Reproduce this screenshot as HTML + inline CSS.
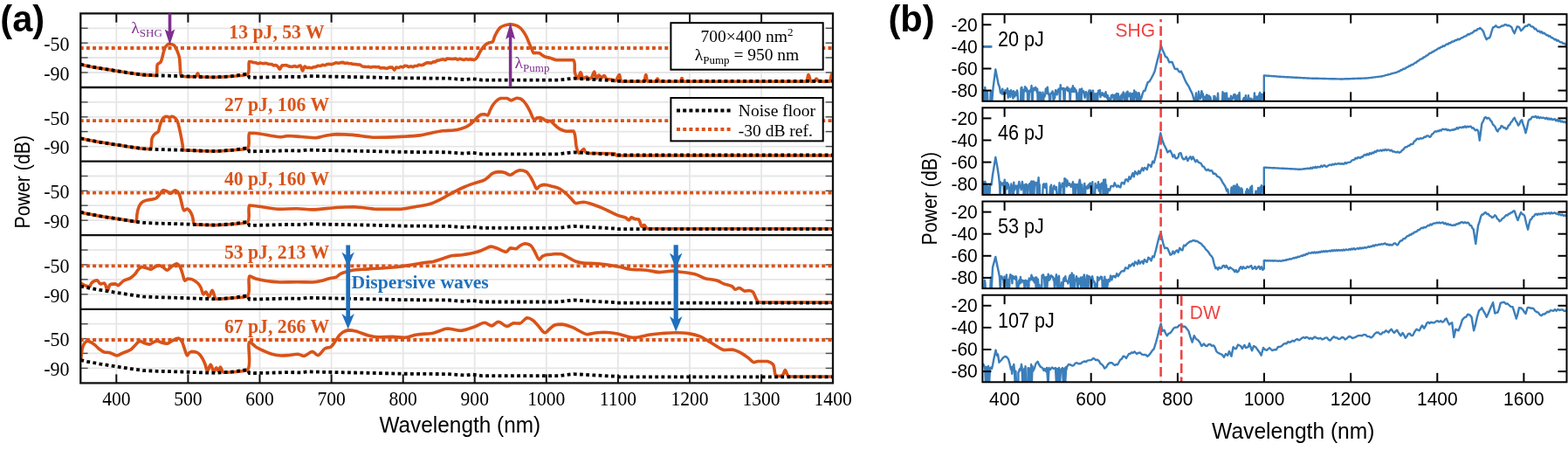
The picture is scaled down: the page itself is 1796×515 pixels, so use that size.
<!DOCTYPE html><html><head><meta charset="utf-8"><title>Figure</title><style>html,body{margin:0;padding:0;background:#fff;}svg{display:block;}</style></head><body>
<svg width="1796" height="515" viewBox="0 0 1796 515">
<rect x="0" y="0" width="1796" height="515" fill="#fff"/>
<defs>
<clipPath id="ca0"><rect x="92.3" y="15.4" width="861.7" height="84.6"/></clipPath>
<clipPath id="ca1"><rect x="92.3" y="100.0" width="861.7" height="84.6"/></clipPath>
<clipPath id="ca2"><rect x="92.3" y="184.6" width="861.7" height="84.6"/></clipPath>
<clipPath id="ca3"><rect x="92.3" y="269.2" width="861.7" height="84.6"/></clipPath>
<clipPath id="ca4"><rect x="92.3" y="353.8" width="861.7" height="84.6"/></clipPath>
<clipPath id="cb0"><rect x="1125.4" y="16.2" width="669.1" height="99.6"/></clipPath>
<clipPath id="cb1"><rect x="1125.4" y="123.3" width="669.1" height="99.6"/></clipPath>
<clipPath id="cb2"><rect x="1125.4" y="230.5" width="669.1" height="99.6"/></clipPath>
<clipPath id="cb3"><rect x="1125.4" y="337.7" width="669.1" height="99.6"/></clipPath>
</defs>
<g stroke="#E6E6E6" stroke-width="1.8" fill="none">
<line x1="133.3" y1="15.4" x2="133.3" y2="438.4"/>
<line x1="215.4" y1="15.4" x2="215.4" y2="438.4"/>
<line x1="297.5" y1="15.4" x2="297.5" y2="438.4"/>
<line x1="379.6" y1="15.4" x2="379.6" y2="438.4"/>
<line x1="461.7" y1="15.4" x2="461.7" y2="438.4"/>
<line x1="543.7" y1="15.4" x2="543.7" y2="438.4"/>
<line x1="625.8" y1="15.4" x2="625.8" y2="438.4"/>
<line x1="707.9" y1="15.4" x2="707.9" y2="438.4"/>
<line x1="790.0" y1="15.4" x2="790.0" y2="438.4"/>
<line x1="872.1" y1="15.4" x2="872.1" y2="438.4"/>
<line x1="92.3" y1="32.3" x2="954.0" y2="32.3"/>
<line x1="92.3" y1="49.2" x2="954.0" y2="49.2"/>
<line x1="92.3" y1="66.0" x2="954.0" y2="66.0"/>
<line x1="92.3" y1="83.0" x2="954.0" y2="83.0"/>
<line x1="92.3" y1="116.9" x2="954.0" y2="116.9"/>
<line x1="92.3" y1="133.8" x2="954.0" y2="133.8"/>
<line x1="92.3" y1="150.6" x2="954.0" y2="150.6"/>
<line x1="92.3" y1="167.6" x2="954.0" y2="167.6"/>
<line x1="92.3" y1="201.5" x2="954.0" y2="201.5"/>
<line x1="92.3" y1="218.4" x2="954.0" y2="218.4"/>
<line x1="92.3" y1="235.2" x2="954.0" y2="235.2"/>
<line x1="92.3" y1="252.2" x2="954.0" y2="252.2"/>
<line x1="92.3" y1="286.1" x2="954.0" y2="286.1"/>
<line x1="92.3" y1="303.0" x2="954.0" y2="303.0"/>
<line x1="92.3" y1="319.8" x2="954.0" y2="319.8"/>
<line x1="92.3" y1="336.8" x2="954.0" y2="336.8"/>
<line x1="92.3" y1="370.7" x2="954.0" y2="370.7"/>
<line x1="92.3" y1="387.6" x2="954.0" y2="387.6"/>
<line x1="92.3" y1="404.4" x2="954.0" y2="404.4"/>
<line x1="92.3" y1="421.4" x2="954.0" y2="421.4"/>
</g>
<g stroke="#4a4a4a" stroke-width="1.4">
<line x1="92.3" y1="32.3" x2="100.6" y2="32.3"/>
<line x1="945.7" y1="32.3" x2="954.0" y2="32.3"/>
<line x1="92.3" y1="49.2" x2="100.6" y2="49.2"/>
<line x1="945.7" y1="49.2" x2="954.0" y2="49.2"/>
<line x1="92.3" y1="66.0" x2="100.6" y2="66.0"/>
<line x1="945.7" y1="66.0" x2="954.0" y2="66.0"/>
<line x1="92.3" y1="83.0" x2="100.6" y2="83.0"/>
<line x1="945.7" y1="83.0" x2="954.0" y2="83.0"/>
<line x1="92.3" y1="116.9" x2="100.6" y2="116.9"/>
<line x1="945.7" y1="116.9" x2="954.0" y2="116.9"/>
<line x1="92.3" y1="133.8" x2="100.6" y2="133.8"/>
<line x1="945.7" y1="133.8" x2="954.0" y2="133.8"/>
<line x1="92.3" y1="150.6" x2="100.6" y2="150.6"/>
<line x1="945.7" y1="150.6" x2="954.0" y2="150.6"/>
<line x1="92.3" y1="167.6" x2="100.6" y2="167.6"/>
<line x1="945.7" y1="167.6" x2="954.0" y2="167.6"/>
<line x1="92.3" y1="201.5" x2="100.6" y2="201.5"/>
<line x1="945.7" y1="201.5" x2="954.0" y2="201.5"/>
<line x1="92.3" y1="218.4" x2="100.6" y2="218.4"/>
<line x1="945.7" y1="218.4" x2="954.0" y2="218.4"/>
<line x1="92.3" y1="235.2" x2="100.6" y2="235.2"/>
<line x1="945.7" y1="235.2" x2="954.0" y2="235.2"/>
<line x1="92.3" y1="252.2" x2="100.6" y2="252.2"/>
<line x1="945.7" y1="252.2" x2="954.0" y2="252.2"/>
<line x1="92.3" y1="286.1" x2="100.6" y2="286.1"/>
<line x1="945.7" y1="286.1" x2="954.0" y2="286.1"/>
<line x1="92.3" y1="303.0" x2="100.6" y2="303.0"/>
<line x1="945.7" y1="303.0" x2="954.0" y2="303.0"/>
<line x1="92.3" y1="319.8" x2="100.6" y2="319.8"/>
<line x1="945.7" y1="319.8" x2="954.0" y2="319.8"/>
<line x1="92.3" y1="336.8" x2="100.6" y2="336.8"/>
<line x1="945.7" y1="336.8" x2="954.0" y2="336.8"/>
<line x1="92.3" y1="370.7" x2="100.6" y2="370.7"/>
<line x1="945.7" y1="370.7" x2="954.0" y2="370.7"/>
<line x1="92.3" y1="387.6" x2="100.6" y2="387.6"/>
<line x1="945.7" y1="387.6" x2="954.0" y2="387.6"/>
<line x1="92.3" y1="404.4" x2="100.6" y2="404.4"/>
<line x1="945.7" y1="404.4" x2="954.0" y2="404.4"/>
<line x1="92.3" y1="421.4" x2="100.6" y2="421.4"/>
<line x1="945.7" y1="421.4" x2="954.0" y2="421.4"/>
</g>
<g clip-path="url(#ca0)">
<path d="M92.30,73.70C92.30,73.70 97.00,74.79 100.00,75.40C104.17,76.25 109.68,77.29 115.00,78.20C121.02,79.23 128.20,80.24 134.30,81.20C139.80,82.07 144.93,82.95 150.00,83.70C154.74,84.40 159.11,85.16 163.80,85.60C168.64,86.05 175.89,86.33 178.60,86.33C181.11,84.26 178.90,76.25 180.40,73.70C181.31,72.16 183.05,72.42 184.10,70.90C185.88,68.31 186.62,61.27 187.80,58.00C188.55,55.91 189.00,54.34 190.00,53.00C190.89,51.81 191.96,50.53 193.30,50.20C194.85,50.20 197.50,50.58 198.90,51.50C200.12,52.30 200.76,53.69 201.50,55.00C202.31,56.43 202.87,58.08 203.50,59.80C204.21,61.72 205.05,63.74 205.50,66.00C206.02,68.61 205.91,71.50 206.20,74.60C206.55,78.27 206.38,85.16 207.50,86.60C207.91,87.13 208.22,87.00 209.00,87.16C211.39,87.64 221.25,87.76 224.00,87.76C225.54,86.95 225.75,83.80 226.50,83.80C227.25,83.84 227.95,87.58 228.50,87.94C228.68,87.96 228.80,87.95 229.00,87.96C229.28,87.97 229.46,87.98 230.00,88.00C232.20,88.07 241.09,88.40 246.80,88.40C252.75,88.29 258.90,87.91 265.00,87.30C271.20,86.68 280.41,87.30 283.70,84.70C286.57,81.82 284.02,71.70 285.60,70.50C286.26,70.50 287.25,70.69 288.07,70.85C288.89,71.01 289.71,71.32 290.53,71.47C291.35,71.63 292.21,71.58 293.00,71.80C293.78,72.02 294.49,72.72 295.25,72.78C295.99,72.78 296.74,72.22 297.50,72.16C298.24,72.16 299.00,72.34 299.75,72.45C300.50,72.56 301.25,72.81 302.00,72.81C302.75,72.78 303.51,72.29 304.25,72.29C305.01,72.34 305.74,72.89 306.50,73.10C307.24,73.30 308.00,73.45 308.75,73.52C309.50,73.52 310.27,73.50 311.00,73.50C311.80,73.71 312.53,74.72 313.33,74.86C314.09,74.86 314.92,74.44 315.67,74.44C316.48,74.61 317.25,75.32 318.00,76.00C318.91,76.83 319.79,79.20 320.60,79.20C321.47,79.13 322.01,75.63 323.00,75.00C323.69,74.81 324.56,74.88 325.33,74.81C326.11,74.75 326.90,74.60 327.67,74.60C328.46,74.71 329.20,75.22 330.00,75.50C330.81,75.79 331.66,76.17 332.50,76.31C333.32,76.35 334.18,76.35 335.00,76.35C335.85,76.20 336.67,75.43 337.50,75.43C338.34,75.45 339.06,76.48 340.00,76.50C341.17,76.50 342.95,75.00 344.00,75.00C345.30,75.55 345.73,80.98 346.60,81.00C347.40,81.00 348.00,76.30 349.00,76.00C349.73,76.00 350.63,77.32 351.50,77.52C352.30,77.52 353.16,77.30 354.00,77.30C354.86,77.34 355.73,77.78 356.58,77.78C357.45,77.71 358.29,77.08 359.16,76.86C360.01,76.64 360.90,76.69 361.74,76.43C362.62,76.16 363.44,75.39 364.32,75.24C365.16,75.24 366.06,75.50 366.90,75.50C367.78,75.34 368.60,74.35 369.48,74.25C370.32,74.25 371.22,74.79 372.06,74.79C372.94,74.69 373.76,73.79 374.64,73.57C375.48,73.42 376.36,73.42 377.22,73.42C378.08,73.43 378.95,73.60 379.80,73.60C380.67,73.48 381.52,72.98 382.38,72.70C383.24,72.41 384.09,71.95 384.96,71.87C385.81,71.87 386.68,72.22 387.54,72.22C388.40,72.19 389.26,71.87 390.12,71.73C390.98,71.60 391.86,71.40 392.70,71.40C393.55,71.51 394.33,72.26 395.17,72.38C395.98,72.38 396.82,72.17 397.63,72.17C398.46,72.23 399.27,72.64 400.10,72.75C400.92,72.87 401.75,72.75 402.57,72.87C403.40,72.99 404.20,73.40 405.03,73.53C405.85,73.60 406.68,73.53 407.50,73.60C408.32,73.68 409.13,73.90 409.95,73.99C410.76,74.08 411.62,73.99 412.40,74.13C413.26,74.44 413.99,75.53 414.85,75.90C415.63,76.23 416.48,76.25 417.30,76.36C418.11,76.47 418.93,76.54 419.75,76.55C420.57,76.55 421.40,76.40 422.20,76.40C422.98,76.47 423.73,76.95 424.50,76.96C425.27,76.96 426.03,76.52 426.80,76.44C427.56,76.44 428.33,76.44 429.10,76.48C429.87,76.53 430.63,76.76 431.40,76.77C432.17,76.77 432.96,76.56 433.70,76.56C434.50,76.76 435.20,77.86 436.00,78.00C436.74,78.00 437.53,77.55 438.30,77.53C439.07,77.53 439.79,77.79 440.60,77.90C441.49,78.02 442.48,78.22 443.40,78.22C444.35,78.10 445.25,77.30 446.20,77.10C447.12,77.00 448.15,77.00 449.00,77.00C450.03,77.45 450.86,80.10 451.70,80.10C452.52,80.07 453.09,77.35 454.00,77.00C454.75,77.00 455.71,77.52 456.55,77.52C457.41,77.43 458.26,76.48 459.10,76.40C459.87,76.40 460.66,76.91 461.40,76.91C462.20,76.75 462.89,75.48 463.70,75.28C464.43,75.28 465.25,75.32 466.00,75.54C466.79,75.77 467.53,76.65 468.30,76.69C469.06,76.69 469.83,75.80 470.60,75.78C471.36,75.78 472.14,76.59 472.90,76.59C473.68,76.54 474.41,75.60 475.20,75.43C475.95,75.43 476.76,75.50 477.50,75.50C478.30,75.30 479.02,74.29 479.81,74.16C480.56,74.16 481.35,74.56 482.12,74.58C482.89,74.58 483.70,74.55 484.44,74.28C485.24,73.98 485.96,73.19 486.75,72.79C487.50,72.40 488.28,72.05 489.06,71.88C489.82,71.75 490.61,71.75 491.38,71.75C492.15,71.82 492.94,72.31 493.69,72.31C494.48,72.19 495.20,71.13 496.00,70.90C496.74,70.90 497.57,70.90 498.30,70.90C499.11,70.65 499.79,69.59 500.60,69.29C501.33,69.06 502.14,69.21 502.90,69.06C503.67,68.90 504.43,68.54 505.20,68.33C505.96,68.12 506.74,67.80 507.50,67.80C508.27,67.85 509.06,68.66 509.80,68.66C510.59,68.56 511.29,67.31 512.10,67.08C512.83,67.08 513.62,67.14 514.40,67.20C515.21,67.26 516.04,67.42 516.87,67.46C517.69,67.46 518.51,67.46 519.33,67.41C520.16,67.34 520.99,67.09 521.80,67.09C522.64,67.22 523.44,68.19 524.27,68.22C525.08,68.22 525.91,67.30 526.73,67.29C527.55,67.29 528.38,67.91 529.20,68.10C529.97,68.28 530.74,68.44 531.50,68.44C532.28,68.36 533.03,67.61 533.80,67.58C534.56,67.58 535.33,68.15 536.10,68.21C536.86,68.21 537.63,67.93 538.40,67.92C539.17,67.92 539.94,67.99 540.70,68.10C541.47,68.22 542.20,68.60 543.00,68.60C544.16,68.29 545.61,66.70 546.70,65.30C548.01,63.63 548.87,60.92 550.00,59.00C551.01,57.29 551.92,55.73 553.10,54.30C554.26,52.90 555.66,51.46 557.00,50.50C558.14,49.68 559.29,49.15 560.50,48.70C561.69,48.26 563.24,48.63 564.20,47.80C565.42,46.74 565.62,43.94 566.50,42.00C567.44,39.94 568.54,37.63 569.70,35.80C570.73,34.18 571.70,32.58 573.00,31.50C574.20,30.50 575.49,29.96 577.10,29.40C579.16,28.68 582.03,27.90 584.50,27.90C586.97,27.90 589.86,28.58 591.90,29.40C593.54,30.06 594.79,30.94 596.00,32.00C597.23,33.07 598.14,34.33 599.20,35.80C600.48,37.57 601.83,39.72 603.00,42.00C604.32,44.59 605.51,48.07 606.60,50.60C607.47,52.61 608.21,54.27 609.00,56.00C609.74,57.62 610.16,60.09 611.20,60.70C611.97,60.70 613.00,60.51 614.00,60.50C615.15,60.50 616.55,60.50 617.70,60.70C618.89,61.11 619.82,62.26 621.00,63.00C622.27,63.80 623.63,64.75 625.10,65.30C626.62,65.87 628.21,65.83 630.00,66.30C632.23,66.89 634.31,68.21 637.40,68.70C642.27,68.70 653.30,68.70 656.70,68.70C659.72,71.37 657.35,79.96 658.60,83.80C659.45,86.42 660.95,90.00 662.00,90.00C663.09,89.94 664.00,82.90 665.00,82.90C666.00,82.90 666.57,89.47 668.00,90.00C669.09,90.00 670.80,88.00 672.00,88.00C673.12,88.13 674.00,90.50 675.00,90.50C676.00,90.50 677.13,89.14 678.00,88.00C679.12,86.52 679.90,82.00 680.70,82.00C681.60,82.06 681.94,89.80 683.00,90.00C683.82,90.00 684.96,86.07 686.00,86.00C686.96,86.00 687.98,88.95 689.00,89.00C689.98,89.00 691.05,86.50 692.00,86.50C693.07,86.62 693.67,89.75 695.00,90.50C696.33,91.00 698.35,90.67 700.00,91.00C701.68,91.33 703.56,92.50 705.00,92.50C706.79,91.82 708.13,85.60 709.30,85.60C710.46,85.73 709.71,91.58 712.00,93.20C716.03,93.20 732.93,93.20 737.00,93.20C739.32,91.59 738.96,85.60 739.80,85.60C740.63,85.63 740.26,91.89 742.00,93.20C743.86,93.20 749.20,93.20 751.00,93.20C752.17,92.55 752.27,90.04 753.00,90.00C753.76,90.00 753.96,92.45 755.50,93.20C759.22,93.20 775.56,93.20 779.00,93.20C780.45,92.33 780.33,89.50 781.00,89.50C781.67,89.50 781.24,92.15 783.00,93.20C793.17,93.20 910.59,93.20 923.00,93.20C926.00,91.16 925.00,85.60 926.00,85.60C927.00,85.60 927.47,92.16 929.00,93.20C930.07,93.20 931.99,93.20 933.00,93.20C933.98,92.66 934.21,90.08 935.00,90.00C935.85,90.00 936.47,92.54 938.00,93.20C940.54,93.20 947.57,93.20 950.00,93.20C952.10,91.68 951.89,84.90 952.80,84.70C953.20,84.70 954.00,86.00 954.00,86.00" fill="none" stroke="#D95319" stroke-width="3.6" stroke-linejoin="round" stroke-linecap="round"/>
<polyline points="92.3,73.7 100.0,75.4 115.0,78.2 134.3,81.2 150.0,83.7 163.8,85.6 180.0,86.4 207.5,87.1 230.0,88.0 246.8,88.4 265.0,87.3 283.7,84.7 285.6,88.7 300.0,88.5 330.0,87.7 345.0,88.0 352.0,87.0 370.0,87.4 400.0,88.0 422.0,88.4 459.0,89.3 514.0,89.7 525.0,90.6 533.0,91.1 540.0,90.2 547.0,90.8 552.0,91.7 640.0,91.7 650.0,90.4 657.0,89.7 680.0,91.0 703.8,92.3 706.0,92.9 954.0,92.9" fill="none" stroke="#000" stroke-width="3.8" stroke-dasharray="3.8 3.4"/>
<line x1="93.3" y1="55.0" x2="954.0" y2="55.0" stroke="#D95319" stroke-width="3.8" stroke-dasharray="4 3.2" stroke-dashoffset="1.6"/>
</g>
<g clip-path="url(#ca1)">
<path d="M92.30,158.30C92.30,158.30 97.00,159.39 100.00,160.00C104.17,160.85 109.68,161.89 115.00,162.80C121.02,163.83 128.20,164.84 134.30,165.80C139.80,166.67 144.93,167.55 150.00,168.30C154.74,169.00 159.77,169.82 163.80,170.20C166.91,170.49 170.35,170.61 172.10,170.61C174.21,168.90 173.18,161.37 174.00,158.70C174.44,157.25 174.88,156.45 175.50,155.50C176.09,154.60 176.75,153.88 177.60,153.10C178.62,152.17 180.41,151.70 181.30,150.40C182.37,148.84 182.36,146.05 183.00,144.00C183.60,142.06 184.25,140.00 185.00,138.40C185.61,137.09 186.16,135.85 187.00,135.00C187.74,134.25 188.71,133.63 189.60,133.40C190.39,133.40 191.24,133.40 192.00,133.50C192.78,133.72 193.47,134.70 194.20,134.70C194.97,134.67 195.69,133.35 196.50,133.20C197.26,133.20 198.09,133.25 198.90,133.70C200.08,134.35 201.58,135.92 202.50,137.40C203.49,138.99 203.91,140.98 204.50,143.00C205.17,145.28 205.59,147.51 206.20,150.40C207.05,154.46 208.36,161.18 209.00,165.10C209.43,167.70 209.19,170.83 209.90,171.60C210.20,171.84 210.40,171.76 211.00,171.84C213.45,172.15 223.86,172.40 230.00,172.60C235.77,172.78 241.09,173.00 246.80,173.00C252.75,172.89 258.90,172.51 265.00,171.90C271.20,171.28 280.26,171.90 283.70,169.30C286.99,165.98 283.37,154.33 285.90,152.20C287.53,152.20 290.09,152.20 293.00,152.50C297.71,152.98 306.32,154.73 311.40,155.50C314.99,156.05 317.52,156.80 320.60,156.80C323.72,156.80 326.50,155.62 330.00,155.50C334.41,155.50 339.89,156.14 345.00,156.50C350.35,156.87 356.55,157.70 361.40,157.70C365.34,157.44 368.26,156.16 372.00,155.50C376.17,154.77 380.49,153.84 385.30,153.60C390.95,153.60 397.13,153.88 403.80,154.40C411.70,155.01 420.70,156.94 429.60,157.30C439.09,157.30 449.98,156.85 459.10,156.40C467.00,156.01 475.00,155.74 481.20,154.90C485.77,154.28 489.03,153.31 493.00,152.50C497.03,151.68 500.70,150.64 505.20,150.00C510.68,149.22 518.54,149.46 523.60,148.50C527.27,147.81 530.31,146.81 532.90,145.70C534.91,144.84 536.44,143.89 538.00,142.80C539.50,141.75 540.79,140.57 542.10,139.30C543.46,137.98 544.53,136.34 546.00,135.00C547.57,133.56 549.60,131.62 551.30,131.00C552.57,130.80 553.78,130.80 555.00,130.80C556.25,130.95 557.73,131.90 558.70,131.90C559.84,131.39 560.15,128.72 561.00,127.00C561.96,125.05 562.99,122.68 564.20,120.80C565.34,119.04 566.49,117.37 568.00,116.00C569.55,114.59 571.36,113.10 573.40,112.50C575.59,112.50 578.68,112.50 580.80,112.50C582.58,112.94 583.72,114.83 585.40,114.90C587.36,114.90 589.96,112.40 591.90,112.20C593.40,112.20 594.77,112.47 596.00,113.00C597.20,113.52 598.15,114.31 599.20,115.30C600.50,116.53 601.82,118.27 603.00,120.00C604.30,121.90 605.30,123.89 606.60,126.30C608.30,129.46 610.43,137.05 612.20,137.40C613.16,137.40 613.93,135.47 615.00,135.00C616.06,134.60 617.44,134.60 618.60,134.60C619.77,134.77 620.80,135.36 622.00,136.00C623.52,136.82 625.41,139.09 626.90,139.30C628.01,139.30 628.87,138.30 630.00,138.30C631.76,138.66 634.07,141.89 636.00,143.50C637.76,144.97 639.15,146.49 641.10,147.60C643.23,148.81 645.85,149.89 648.40,150.30C651.04,150.30 654.71,150.00 656.70,150.00C659.72,152.40 658.97,164.24 660.40,168.80C661.26,171.55 662.05,174.91 663.20,175.20C664.02,175.20 665.09,173.76 666.00,173.00C666.92,172.23 667.96,170.60 668.70,170.60C669.47,170.74 669.66,173.23 670.50,174.00C671.25,174.69 671.82,174.88 673.30,175.20C677.99,175.80 699.17,175.20 703.80,175.80C705.38,176.36 704.71,177.35 706.60,178.00C722.38,178.00 954.00,178.00 954.00,178.00" fill="none" stroke="#D95319" stroke-width="3.6" stroke-linejoin="round" stroke-linecap="round"/>
<polyline points="92.3,158.3 100.0,160.0 115.0,162.8 134.3,165.8 150.0,168.3 163.8,170.2 180.0,171.0 207.5,171.7 230.0,172.6 246.8,173.0 265.0,171.9 283.7,169.3 285.6,173.3 300.0,173.1 330.0,172.3 345.0,172.6 352.0,171.6 370.0,172.0 400.0,172.6 422.0,173.0 459.0,173.9 514.0,174.3 525.0,175.2 533.0,175.7 540.0,174.8 547.0,175.4 552.0,176.3 640.0,176.3 650.0,175.0 657.0,174.3 680.0,175.6 703.8,176.9 706.0,177.5 954.0,177.5" fill="none" stroke="#000" stroke-width="3.8" stroke-dasharray="3.8 3.4"/>
<line x1="93.3" y1="138.1" x2="954.0" y2="138.1" stroke="#D95319" stroke-width="3.8" stroke-dasharray="4 3.2" stroke-dashoffset="1.6"/>
</g>
<g clip-path="url(#ca2)">
<path d="M92.30,242.90C92.30,242.90 97.00,243.99 100.00,244.60C104.17,245.45 109.68,246.49 115.00,247.40C121.02,248.43 128.20,249.44 134.30,250.40C139.80,251.27 146.11,252.32 150.00,252.90C152.30,253.24 154.30,253.66 155.50,253.66C157.01,252.56 156.49,247.62 157.00,245.00C157.43,242.81 157.69,240.88 158.30,239.00C158.88,237.23 159.53,235.42 160.50,234.00C161.40,232.69 162.44,231.53 163.80,230.70C165.31,229.77 167.43,229.35 169.30,228.90C171.17,228.45 173.33,228.36 175.00,228.00C176.35,227.71 177.47,227.65 178.60,227.00C179.93,226.24 181.04,224.77 182.30,223.40C183.79,221.77 185.27,218.34 186.90,217.80C188.08,217.80 189.34,218.18 190.60,218.70C192.10,219.32 193.61,221.50 195.20,221.50C196.96,221.46 199.06,217.80 200.70,217.80C202.07,217.84 203.45,219.35 204.40,220.60C205.46,222.00 205.90,224.09 206.50,226.00C207.15,228.07 207.44,230.29 208.10,232.60C208.84,235.22 209.38,240.31 210.80,240.90C211.78,240.90 213.42,239.00 214.50,239.00C215.45,239.10 216.26,240.16 217.00,241.00C217.85,241.97 218.57,243.24 219.20,244.60C219.94,246.18 220.55,248.16 221.00,250.00C221.45,251.83 221.36,254.42 221.90,255.60C222.20,256.25 222.37,256.61 223.00,256.92C224.27,257.20 227.16,257.11 230.00,257.20C234.39,257.34 241.09,257.60 246.80,257.60C252.75,257.49 258.90,257.11 265.00,256.50C271.20,255.88 280.21,256.50 283.70,253.90C287.20,250.32 283.22,237.16 285.90,235.00C287.54,235.00 289.86,235.34 293.00,235.70C299.20,236.42 312.19,238.99 320.60,239.40C327.62,239.40 333.68,238.70 340.00,238.70C346.04,238.80 351.15,239.90 357.70,239.90C365.89,239.82 376.80,238.02 385.30,237.50C392.58,237.06 398.44,236.80 405.60,236.80C413.69,237.07 422.64,238.96 431.40,239.40C440.46,239.40 450.84,239.40 459.10,239.40C465.89,238.81 471.70,237.23 477.50,236.20C482.70,235.27 487.61,234.92 492.30,233.50C496.83,232.12 501.35,229.80 505.20,227.90C508.46,226.29 511.00,224.65 514.00,223.00C517.13,221.28 520.39,219.40 523.60,217.80C526.72,216.24 529.72,214.85 533.00,213.50C536.47,212.07 540.24,210.78 543.90,209.50C547.57,208.21 552.12,207.32 555.00,205.80C557.11,204.69 558.42,203.27 560.00,202.00C561.48,200.81 562.48,199.28 564.20,198.40C566.22,197.36 569.21,196.72 571.60,196.60C573.80,196.60 575.90,196.91 578.00,197.50C580.20,198.12 582.46,200.30 584.50,200.30C586.45,200.17 588.12,197.93 590.00,197.00C591.82,196.10 593.59,194.93 595.60,194.80C597.85,194.80 601.18,195.57 602.90,196.60C604.14,197.34 604.64,198.39 605.50,199.50C606.51,200.80 607.55,202.36 608.50,204.00C609.56,205.83 610.44,208.01 611.50,210.00C612.57,212.01 613.67,215.82 614.90,216.00C615.87,216.00 616.73,213.75 618.00,213.00C619.43,212.15 621.21,211.51 623.20,211.40C625.82,211.40 629.40,212.43 632.40,213.20C635.36,213.96 638.43,214.62 641.10,216.00C643.77,217.38 646.18,219.59 648.40,221.50C650.45,223.27 652.15,225.15 654.00,227.00C655.85,228.85 657.19,231.82 659.50,232.60C662.01,232.60 665.22,231.30 668.70,231.30C673.46,231.66 680.42,234.50 685.30,236.30C689.31,237.78 692.38,239.36 696.00,241.00C699.77,242.71 703.83,244.99 707.50,246.40C710.69,247.63 714.39,248.05 716.70,249.20C718.29,250.00 719.30,251.90 720.40,251.90C721.45,251.79 722.10,249.03 723.20,248.80C724.30,248.80 725.65,250.13 727.00,250.50C728.41,250.88 730.27,250.50 731.50,251.00C733.24,252.28 733.69,258.87 735.10,259.30C735.96,259.30 737.03,257.50 737.90,257.50C738.92,257.68 739.86,260.57 740.70,261.20C741.16,261.55 741.17,261.55 742.00,261.70C752.24,261.70 954.00,261.70 954.00,261.70" fill="none" stroke="#D95319" stroke-width="3.6" stroke-linejoin="round" stroke-linecap="round"/>
<polyline points="92.3,242.9 100.0,244.6 115.0,247.4 134.3,250.4 150.0,252.9 163.8,254.8 180.0,255.6 207.5,256.3 230.0,257.2 246.8,257.6 265.0,256.5 283.7,253.9 285.6,257.9 300.0,257.7 330.0,256.9 345.0,257.2 352.0,256.2 370.0,256.6 400.0,257.2 422.0,257.6 459.0,258.5 514.0,258.9 525.0,259.8 533.0,260.3 540.0,259.4 547.0,260.0 552.0,260.9 640.0,260.9 650.0,259.6 657.0,258.9 680.0,260.2 703.8,261.5 706.0,262.1 954.0,262.1" fill="none" stroke="#000" stroke-width="3.8" stroke-dasharray="3.8 3.4"/>
<line x1="93.3" y1="220.7" x2="954.0" y2="220.7" stroke="#D95319" stroke-width="3.8" stroke-dasharray="4 3.2" stroke-dashoffset="1.6"/>
</g>
<g clip-path="url(#ca3)">
<path d="M92.30,324.00C92.30,324.00 95.62,326.08 97.40,326.70C99.15,327.31 101.66,327.70 102.90,327.70C103.97,327.17 103.74,325.05 104.80,324.00C106.19,322.62 109.45,320.80 111.20,320.80C112.73,321.09 113.44,324.41 114.90,324.90C116.24,324.90 118.24,324.00 119.50,324.00C121.26,324.91 122.06,332.30 123.20,332.30C124.21,332.29 124.40,327.02 126.00,325.80C127.53,324.90 130.75,324.90 132.40,324.90C133.58,325.16 134.10,326.70 135.20,326.70C136.95,326.59 139.34,322.59 141.70,321.20C143.96,319.86 146.82,319.67 149.00,318.40C151.10,317.18 153.05,315.46 154.60,313.80C155.99,312.30 156.73,310.41 158.00,309.00C159.21,307.66 160.48,305.91 162.00,305.50C163.49,305.50 165.27,306.07 167.00,306.50C168.92,306.98 171.15,308.30 173.00,308.30C174.81,308.03 176.34,305.78 178.00,305.00C179.44,304.33 180.86,303.70 182.30,303.70C183.86,303.83 185.49,305.10 187.00,306.00C188.56,306.93 190.01,309.20 191.50,309.20C193.04,309.15 194.39,306.67 196.10,305.50C198.01,304.19 200.73,301.80 202.50,301.80C203.99,302.00 205.18,303.91 206.20,305.50C207.46,307.46 208.08,310.44 209.00,313.00C209.95,315.67 210.47,320.76 211.80,321.20C212.69,321.20 213.80,319.31 215.00,319.00C216.25,319.00 217.68,319.00 219.20,319.40C221.38,320.14 224.63,322.22 226.50,324.00C228.07,325.49 228.98,327.07 230.00,329.00C231.20,331.27 231.78,336.64 233.00,336.90C233.83,336.90 234.87,334.10 235.80,334.10C237.00,334.22 238.24,339.60 239.40,339.60C240.69,339.53 242.01,332.30 243.10,332.30C244.17,332.35 245.17,337.79 245.90,339.60C246.34,340.69 246.07,341.61 247.00,342.19C249.36,342.19 258.95,341.70 265.00,341.10C271.19,340.48 280.12,341.10 283.70,338.50C287.61,334.42 283.07,317.68 285.90,316.00C287.55,316.00 289.78,318.10 293.00,319.00C299.12,320.71 312.19,322.46 320.60,323.00C327.62,323.00 333.68,322.70 340.00,322.70C346.04,322.70 352.51,323.00 357.70,323.00C361.82,322.70 365.22,322.01 368.70,321.20C371.93,320.45 374.98,319.10 377.90,318.40C380.48,317.78 383.35,318.01 385.30,317.10C386.86,316.37 387.71,314.82 389.00,314.00C390.19,313.25 391.11,312.88 392.70,312.30C395.38,311.32 399.59,309.93 403.80,309.20C409.12,308.28 415.44,308.37 422.20,307.90C430.49,307.32 441.62,306.82 449.90,306.00C456.67,305.33 462.18,304.52 468.30,303.60C474.44,302.68 481.60,301.23 486.70,300.50C490.32,299.98 492.80,300.08 496.00,299.40C499.55,298.65 503.32,297.13 507.00,296.00C510.69,294.86 514.36,293.32 518.10,292.60C521.76,291.90 525.05,292.28 529.20,291.70C534.58,290.94 542.89,289.41 547.60,288.00C550.67,287.08 552.53,285.98 555.00,285.00C557.46,284.02 559.92,282.20 562.40,282.10C564.82,282.10 567.08,283.39 569.70,284.30C572.84,285.39 577.29,288.30 579.90,288.30C581.89,287.91 582.67,284.50 584.50,283.90C586.34,283.90 588.97,284.70 590.90,284.70C592.80,284.21 594.24,282.00 596.00,281.00C597.65,280.06 599.49,278.99 601.10,278.80C602.46,278.80 603.77,279.05 605.00,279.50C606.24,279.95 607.39,280.42 608.50,281.50C610.13,283.10 611.50,286.44 613.00,289.00C614.56,291.66 616.16,297.04 617.70,297.20C618.81,297.20 619.73,294.42 621.00,293.50C622.21,292.62 623.64,292.07 625.10,291.70C626.63,291.31 628.29,291.48 630.00,291.30C631.90,291.10 633.93,290.61 636.00,290.50C638.22,290.50 640.51,290.50 642.90,290.70C645.83,291.45 649.26,293.93 652.10,295.40C654.57,296.67 656.56,298.09 659.00,299.00C661.49,299.93 663.69,300.44 666.90,300.90C671.73,301.59 678.89,301.18 685.30,301.80C692.37,302.48 700.88,303.78 707.50,305.00C712.92,306.00 716.99,307.59 722.20,308.30C727.98,309.08 734.90,308.59 740.70,309.20C745.90,309.75 750.48,311.45 755.40,311.60C760.32,311.60 766.11,310.10 770.20,310.10C773.09,310.13 774.58,310.59 777.60,311.00C782.36,311.65 790.71,312.33 796.00,313.80C800.25,314.98 803.07,317.20 807.10,318.40C811.59,319.74 817.81,319.85 821.80,321.20C824.77,322.20 826.55,323.86 829.20,324.90C832.05,326.02 836.14,326.26 838.40,327.60C840.07,328.59 840.69,331.01 842.10,331.30C843.47,331.30 845.06,329.50 846.70,329.50C848.71,329.65 851.13,332.81 853.20,333.20C854.86,333.20 856.45,332.50 858.00,332.50C859.52,332.66 861.34,333.17 862.40,334.10C863.40,334.98 863.57,336.35 864.30,337.80C865.33,339.84 866.73,343.98 868.00,345.20C868.66,345.83 868.80,345.84 870.00,346.10C877.45,346.10 954.00,346.10 954.00,346.10" fill="none" stroke="#D95319" stroke-width="3.6" stroke-linejoin="round" stroke-linecap="round"/>
<polyline points="92.3,327.5 100.0,329.2 115.0,332.0 134.3,335.0 150.0,337.5 163.8,339.4 180.0,340.2 207.5,340.9 230.0,341.8 246.8,342.2 265.0,341.1 283.7,338.5 285.6,342.5 300.0,342.3 330.0,341.5 345.0,341.8 352.0,340.8 370.0,341.2 400.0,341.8 422.0,342.2 459.0,343.1 514.0,343.5 525.0,344.4 533.0,344.9 540.0,344.0 547.0,344.6 552.0,345.5 640.0,345.5 650.0,344.2 657.0,343.5 680.0,344.8 703.8,346.1 706.0,346.7 954.0,346.7" fill="none" stroke="#000" stroke-width="3.8" stroke-dasharray="3.8 3.4"/>
<line x1="93.3" y1="304.3" x2="954.0" y2="304.3" stroke="#D95319" stroke-width="3.8" stroke-dasharray="4 3.2" stroke-dashoffset="1.6"/>
</g>
<g clip-path="url(#ca4)">
<path d="M92.80,409.80C92.80,409.80 93.67,400.94 94.60,397.80C95.24,395.62 95.95,393.83 97.00,392.50C97.86,391.41 98.83,390.24 100.10,390.10C101.83,390.10 104.84,392.08 106.60,393.20C107.98,394.08 108.84,394.98 110.00,396.00C111.30,397.13 112.50,398.57 114.00,399.70C115.63,400.92 117.58,402.39 119.50,403.00C121.29,403.40 123.33,403.00 125.10,403.40C126.82,403.82 128.41,404.88 130.00,405.50C131.47,406.07 132.80,407.00 134.30,407.00C136.04,406.89 137.71,405.23 139.80,404.30C142.46,403.12 146.51,402.17 149.00,400.60C151.06,399.30 152.25,397.61 154.00,396.00C155.93,394.22 158.07,390.75 160.10,390.40C161.73,390.40 163.25,391.90 165.00,392.50C166.92,393.16 169.31,394.10 171.20,394.10C172.95,393.89 174.40,392.18 176.00,391.50C177.47,390.88 178.93,390.10 180.40,390.10C181.93,390.16 183.31,391.50 185.00,392.00C186.95,392.58 189.48,393.20 191.50,393.20C193.47,392.87 195.00,391.07 197.00,390.10C199.25,389.01 202.44,387.10 204.40,387.10C205.95,387.37 207.08,388.92 208.10,390.40C209.41,392.30 209.98,395.36 211.00,398.00C212.11,400.87 213.38,406.88 214.50,407.00C215.18,407.00 215.68,404.78 216.50,404.00C217.27,403.27 218.06,402.62 219.20,402.40C220.84,402.40 223.87,402.66 225.60,403.40C227.00,404.00 227.97,404.90 229.00,406.00C230.18,407.26 231.14,408.98 232.10,410.70C233.16,412.61 234.11,414.78 235.00,417.00C235.96,419.39 236.56,424.53 237.60,424.60C238.66,424.60 240.09,417.20 241.30,417.20C242.56,417.23 243.80,425.43 245.00,425.50C245.92,425.50 246.75,420.96 247.70,420.90C248.59,420.90 249.72,424.60 250.50,424.60C251.30,424.50 251.68,420.02 252.40,420.00C253.20,420.00 254.19,424.57 255.10,425.50C255.56,425.97 255.81,426.07 256.50,426.21C258.11,426.21 261.62,426.04 265.00,425.70C270.03,425.20 279.93,425.70 283.70,423.10C288.59,417.87 282.74,392.82 285.90,391.40C287.58,391.40 290.41,395.25 293.00,396.90C295.75,398.65 298.93,400.12 302.00,401.50C305.07,402.88 308.08,404.29 311.40,405.20C314.90,406.16 319.15,406.82 322.50,407.00C325.24,407.00 327.26,406.85 330.00,406.60C333.34,406.30 337.81,405.20 341.10,405.20C343.81,405.43 345.87,407.40 348.40,407.40C351.37,407.10 354.92,402.40 357.70,402.40C360.07,402.50 361.91,406.60 364.10,406.60C366.78,406.36 369.60,400.29 372.40,398.70C374.55,397.48 376.94,398.22 378.90,396.90C381.35,395.25 383.56,390.98 385.30,388.60C386.57,386.86 387.27,385.38 388.50,384.00C389.73,382.62 391.04,381.29 392.70,380.30C394.55,379.20 396.87,378.16 399.20,377.90C401.77,377.90 404.38,378.27 407.50,379.00C411.75,379.99 417.60,382.85 422.20,384.00C426.12,384.98 429.21,385.52 433.30,385.80C438.26,385.80 444.72,385.40 449.90,385.40C454.47,385.52 458.39,386.40 462.80,386.40C467.57,386.04 472.29,383.85 477.50,383.00C483.28,382.05 491.15,382.24 496.00,381.20C499.27,380.50 501.28,379.36 504.00,378.50C506.81,377.62 509.33,376.20 512.60,376.00C516.82,376.00 522.28,378.40 527.30,378.40C532.70,378.11 538.97,375.50 543.90,373.80C548.02,372.38 551.58,369.20 555.00,369.20C557.98,369.24 560.66,372.90 563.30,372.90C565.89,372.72 568.01,368.42 570.70,368.30C573.77,368.30 577.69,373.38 580.80,373.40C583.45,373.40 585.66,370.33 588.20,369.80C590.61,369.80 593.20,370.10 595.60,370.10C598.46,369.19 601.21,364.05 603.90,363.70C606.09,363.70 608.28,365.00 610.30,366.40C612.69,368.06 614.73,371.13 617.00,373.50C619.32,375.93 621.78,380.67 624.10,380.80C626.10,380.80 628.05,377.50 630.00,376.00C631.85,374.58 633.41,372.82 635.50,372.00C637.69,371.14 640.12,371.10 642.90,371.10C646.63,371.38 652.05,373.21 655.80,374.70C658.92,375.94 661.23,377.66 664.00,379.00C666.76,380.33 669.45,382.34 672.40,382.70C675.44,382.70 678.70,381.40 682.00,381.00C685.46,380.58 688.85,380.30 692.70,380.30C697.24,380.43 702.32,381.18 707.50,382.10C713.33,383.13 719.74,386.25 725.90,386.40C732.04,386.40 738.69,383.84 744.40,383.00C749.27,382.29 753.28,381.86 758.00,381.50C763.09,381.11 768.70,380.80 773.90,380.80C778.90,380.83 783.88,380.88 788.60,381.60C793.10,382.29 797.39,383.19 801.60,384.90C806.03,386.70 810.06,389.77 814.50,392.30C819.24,395.00 824.73,399.58 829.20,400.60C832.50,400.60 835.24,400.00 838.40,400.00C841.99,400.55 846.25,402.58 849.50,404.30C852.35,405.81 854.64,407.71 857.00,409.50C859.26,411.21 861.33,414.36 863.40,414.80C864.97,414.80 866.12,413.76 868.00,413.50C870.86,413.50 875.90,413.50 879.00,413.50C881.55,414.18 884.18,415.48 885.50,417.20C886.68,418.74 886.54,421.03 887.00,423.00C887.47,425.03 887.24,427.96 888.30,429.20C889.14,430.18 890.69,430.56 892.00,430.60C893.44,430.60 895.41,430.22 896.60,429.20C897.95,428.04 898.39,423.61 899.30,423.60C900.22,423.60 901.14,427.90 902.10,429.20C902.72,430.04 902.77,430.51 904.00,431.00C909.36,431.00 954.00,431.00 954.00,431.00" fill="none" stroke="#D95319" stroke-width="3.6" stroke-linejoin="round" stroke-linecap="round"/>
<polyline points="92.3,412.1 100.0,413.8 115.0,416.6 134.3,419.6 150.0,422.1 163.8,424.0 180.0,424.8 207.5,425.5 230.0,426.4 246.8,426.8 265.0,425.7 283.7,423.1 285.6,427.1 300.0,426.9 330.0,426.1 345.0,426.4 352.0,425.4 370.0,425.8 400.0,426.4 422.0,426.8 459.0,427.7 514.0,428.1 525.0,429.0 533.0,429.5 540.0,428.6 547.0,429.2 552.0,430.1 640.0,430.1 650.0,428.8 657.0,428.1 680.0,429.4 703.8,430.7 706.0,431.3 954.0,431.3" fill="none" stroke="#000" stroke-width="3.8" stroke-dasharray="3.8 3.4"/>
<line x1="93.3" y1="389.0" x2="954.0" y2="389.0" stroke="#D95319" stroke-width="3.8" stroke-dasharray="4 3.2" stroke-dashoffset="1.6"/>
</g>
<g stroke="#111" stroke-width="2.3" fill="none">
<line x1="92.3" y1="100.0" x2="954.0" y2="100.0"/>
<line x1="92.3" y1="184.6" x2="954.0" y2="184.6"/>
<line x1="92.3" y1="269.2" x2="954.0" y2="269.2"/>
<line x1="92.3" y1="353.8" x2="954.0" y2="353.8"/>
<rect x="92.3" y="15.4" width="861.7" height="423.0"/>
</g>
<g stroke="#111" stroke-width="2">
<line x1="133.3" y1="15.4" x2="133.3" y2="25.7"/>
<line x1="133.3" y1="428.4" x2="133.3" y2="438.4"/>
<line x1="215.4" y1="15.4" x2="215.4" y2="25.7"/>
<line x1="215.4" y1="428.4" x2="215.4" y2="438.4"/>
<line x1="297.5" y1="15.4" x2="297.5" y2="25.7"/>
<line x1="297.5" y1="428.4" x2="297.5" y2="438.4"/>
<line x1="379.6" y1="15.4" x2="379.6" y2="25.7"/>
<line x1="379.6" y1="428.4" x2="379.6" y2="438.4"/>
<line x1="461.7" y1="15.4" x2="461.7" y2="25.7"/>
<line x1="461.7" y1="428.4" x2="461.7" y2="438.4"/>
<line x1="543.7" y1="15.4" x2="543.7" y2="25.7"/>
<line x1="543.7" y1="428.4" x2="543.7" y2="438.4"/>
<line x1="625.8" y1="15.4" x2="625.8" y2="25.7"/>
<line x1="625.8" y1="428.4" x2="625.8" y2="438.4"/>
<line x1="707.9" y1="15.4" x2="707.9" y2="25.7"/>
<line x1="707.9" y1="428.4" x2="707.9" y2="438.4"/>
<line x1="790.0" y1="15.4" x2="790.0" y2="25.7"/>
<line x1="790.0" y1="428.4" x2="790.0" y2="438.4"/>
<line x1="872.1" y1="15.4" x2="872.1" y2="25.7"/>
<line x1="872.1" y1="428.4" x2="872.1" y2="438.4"/>
</g>
<text transform="translate(317.00,43.70) scale(1,1.070)" font-family="'Liberation Serif', 'Times New Roman', serif" font-size="21.70" text-anchor="middle" font-weight="bold" fill="#D95319">13 pJ, 53 W</text>
<text transform="translate(317.00,127.40) scale(1,1.070)" font-family="'Liberation Serif', 'Times New Roman', serif" font-size="21.70" text-anchor="middle" font-weight="bold" fill="#D95319">27 pJ, 106 W</text>
<text transform="translate(317.00,211.90) scale(1,1.070)" font-family="'Liberation Serif', 'Times New Roman', serif" font-size="21.70" text-anchor="middle" font-weight="bold" fill="#D95319">40 pJ, 160 W</text>
<text transform="translate(317.00,296.30) scale(1,1.070)" font-family="'Liberation Serif', 'Times New Roman', serif" font-size="21.70" text-anchor="middle" font-weight="bold" fill="#D95319">53 pJ, 213 W</text>
<text transform="translate(317.00,380.90) scale(1,1.070)" font-family="'Liberation Serif', 'Times New Roman', serif" font-size="21.70" text-anchor="middle" font-weight="bold" fill="#D95319">67 pJ, 266 W</text>
<rect x="768.4" y="26.2" width="174.3" height="53.5" fill="#fff" stroke="#000" stroke-width="2"/>
<text x="855.5" y="47.8" font-family="'Liberation Serif', 'Times New Roman', serif" font-size="19.5" text-anchor="middle">700&#215;400 nm<tspan font-size="13" dy="-7">2</tspan></text>
<text x="855.5" y="69.4" font-family="'Liberation Serif', 'Times New Roman', serif" font-size="19.5" text-anchor="middle">&#955;<tspan font-size="13" dy="4">Pump</tspan><tspan dy="-4"> = 950 nm</tspan></text>
<rect x="768.4" y="112" width="174.3" height="49.4" fill="#fff" stroke="#000" stroke-width="2"/>
<line x1="775" y1="126.5" x2="838" y2="126.5" stroke="#000" stroke-width="4.2" stroke-dasharray="4 3.2"/>
<line x1="775" y1="148.1" x2="838" y2="148.1" stroke="#D95319" stroke-width="4" stroke-dasharray="4 3.2"/>
<text x="845.8" y="132.8" font-family="'Liberation Serif', 'Times New Roman', serif" font-size="19.5">Noise floor</text>
<text x="845.8" y="155.9" font-family="'Liberation Serif', 'Times New Roman', serif" font-size="19.5">-30 dB ref.</text>
<line x1="194.5" y1="15.4" x2="194.5" y2="42.5" stroke="#7E2F8E" stroke-width="3.6"/><polygon points="194.5,51.5 188.7,33.5 194.5,37.0 200.3,33.5" fill="#7E2F8E"/>
<line x1="584.6" y1="99.5" x2="584.6" y2="35.4" stroke="#7E2F8E" stroke-width="3.5"/><polygon points="584.6,25.9 579.1,44.9 584.6,41.4 590.1,44.9" fill="#7E2F8E"/>
<line x1="398.7" y1="280.5" x2="398.7" y2="297.0" stroke="#1F70BD" stroke-width="4.8"/><polygon points="398.7,305.5 391.4,288.5 398.7,293.5 405.9,288.5" fill="#1F70BD"/>
<line x1="398.7" y1="300.0" x2="398.7" y2="367.8" stroke="#1F70BD" stroke-width="4.8"/><polygon points="398.7,376.5 391.4,359.0 398.7,364.0 405.9,359.0" fill="#1F70BD"/>
<line x1="774.2" y1="280.3" x2="774.2" y2="298.5" stroke="#1F70BD" stroke-width="5.2"/><polygon points="774.2,307.5 767.0,289.5 774.2,294.5 781.5,289.5" fill="#1F70BD"/>
<line x1="774.2" y1="300.0" x2="774.2" y2="370.8" stroke="#1F70BD" stroke-width="5.2"/><polygon points="774.2,379.5 767.0,362.0 774.2,367.0 781.5,362.0" fill="#1F70BD"/>
<text x="150.3" y="38.4" font-family="'Liberation Serif', 'Times New Roman', serif" font-size="19.5" fill="#7E2F8E">&#955;<tspan font-size="13" dy="3.8">SHG</tspan></text>
<text x="589.6" y="78.2" font-family="'Liberation Serif', 'Times New Roman', serif" font-size="19.5" fill="#7E2F8E">&#955;<tspan font-size="13" dy="3.9">Pump</tspan></text>
<text transform="translate(402.60,330.20)" font-family="'Liberation Serif', 'Times New Roman', serif" font-size="21.70" font-weight="bold" fill="#1F70BD">Dispersive waves</text>
<text transform="translate(79.60,58.00) scale(1,1.040)" font-family="'Liberation Serif', 'Times New Roman', serif" font-size="22.00" text-anchor="end">-50</text>
<text transform="translate(79.60,91.80) scale(1,1.040)" font-family="'Liberation Serif', 'Times New Roman', serif" font-size="22.00" text-anchor="end">-90</text>
<text transform="translate(79.60,142.60) scale(1,1.040)" font-family="'Liberation Serif', 'Times New Roman', serif" font-size="22.00" text-anchor="end">-50</text>
<text transform="translate(79.60,176.40) scale(1,1.040)" font-family="'Liberation Serif', 'Times New Roman', serif" font-size="22.00" text-anchor="end">-90</text>
<text transform="translate(79.60,227.20) scale(1,1.040)" font-family="'Liberation Serif', 'Times New Roman', serif" font-size="22.00" text-anchor="end">-50</text>
<text transform="translate(79.60,261.00) scale(1,1.040)" font-family="'Liberation Serif', 'Times New Roman', serif" font-size="22.00" text-anchor="end">-90</text>
<text transform="translate(79.60,311.80) scale(1,1.040)" font-family="'Liberation Serif', 'Times New Roman', serif" font-size="22.00" text-anchor="end">-50</text>
<text transform="translate(79.60,345.60) scale(1,1.040)" font-family="'Liberation Serif', 'Times New Roman', serif" font-size="22.00" text-anchor="end">-90</text>
<text transform="translate(79.60,396.40) scale(1,1.040)" font-family="'Liberation Serif', 'Times New Roman', serif" font-size="22.00" text-anchor="end">-50</text>
<text transform="translate(79.60,430.20) scale(1,1.040)" font-family="'Liberation Serif', 'Times New Roman', serif" font-size="22.00" text-anchor="end">-90</text>
<text transform="translate(133.34,464.00) scale(1,1.070)" font-family="'Liberation Serif', 'Times New Roman', serif" font-size="21.60" text-anchor="middle">400</text>
<text transform="translate(215.42,464.00) scale(1,1.070)" font-family="'Liberation Serif', 'Times New Roman', serif" font-size="21.60" text-anchor="middle">500</text>
<text transform="translate(297.50,464.00) scale(1,1.070)" font-family="'Liberation Serif', 'Times New Roman', serif" font-size="21.60" text-anchor="middle">600</text>
<text transform="translate(379.58,464.00) scale(1,1.070)" font-family="'Liberation Serif', 'Times New Roman', serif" font-size="21.60" text-anchor="middle">700</text>
<text transform="translate(461.66,464.00) scale(1,1.070)" font-family="'Liberation Serif', 'Times New Roman', serif" font-size="21.60" text-anchor="middle">800</text>
<text transform="translate(543.74,464.00) scale(1,1.070)" font-family="'Liberation Serif', 'Times New Roman', serif" font-size="21.60" text-anchor="middle">900</text>
<text transform="translate(625.82,464.00) scale(1,1.070)" font-family="'Liberation Serif', 'Times New Roman', serif" font-size="21.60" text-anchor="middle">1000</text>
<text transform="translate(707.90,464.00) scale(1,1.070)" font-family="'Liberation Serif', 'Times New Roman', serif" font-size="21.60" text-anchor="middle">1100</text>
<text transform="translate(789.98,464.00) scale(1,1.070)" font-family="'Liberation Serif', 'Times New Roman', serif" font-size="21.60" text-anchor="middle">1200</text>
<text transform="translate(872.06,464.00) scale(1,1.070)" font-family="'Liberation Serif', 'Times New Roman', serif" font-size="21.60" text-anchor="middle">1300</text>
<text transform="translate(954.14,464.00) scale(1,1.070)" font-family="'Liberation Serif', 'Times New Roman', serif" font-size="21.60" text-anchor="middle">1400</text>
<text transform="translate(526.80,495.20) scale(1,1.030)" font-family="'Liberation Sans', Arial, Helvetica, sans-serif" font-size="24.40" text-anchor="middle">Wavelength (nm)</text>
<text transform="translate(34.00,208.20) rotate(-90) scale(1,1.120)" font-family="'Liberation Sans', Arial, Helvetica, sans-serif" font-size="21.30" text-anchor="middle">Power (dB)</text>
<text transform="translate(0.30,35.80)" font-family="'Liberation Sans', Arial, Helvetica, sans-serif" font-size="41.60" font-weight="bold">(a)</text>
<g clip-path="url(#cb0)">
<polyline points="1125.8,118.8 1126.5,103.1 1127.2,105.8 1127.9,118.8 1128.3,99.9 1128.8,105.8 1129.5,118.8 1130.2,105.3 1130.9,104.7 1131.5,118.8 1132.0,118.8 1132.6,118.8 1133.2,118.8 1133.7,118.8 1134.3,118.8 1134.7,103.7 1135.3,105.5 1136.0,118.8 1137.5,101.0 1138.9,90.2 1140.3,79.4 1141.9,87.7 1143.5,96.0 1145.0,100.0 1146.0,106.4 1146.5,104.9 1147.2,103.5 1147.8,107.6 1148.3,101.7 1149.1,107.6 1149.8,105.5 1150.2,106.3 1150.8,107.9 1151.4,103.3 1151.8,106.7 1152.7,106.5 1153.2,105.5 1153.9,101.1 1154.7,111.8 1155.1,105.6 1155.8,104.3 1156.6,106.8 1157.4,110.9 1158.0,103.3 1158.8,104.9 1159.3,106.9 1159.8,106.4 1160.4,112.6 1161.0,104.3 1161.7,107.4 1162.2,110.6 1162.7,105.6 1163.4,107.4 1163.8,109.0 1164.4,105.4 1165.0,103.4 1165.5,105.9 1166.2,118.8 1166.8,118.8 1167.5,118.8 1168.3,118.8 1169.0,118.8 1169.5,100.7 1170.0,101.2 1170.4,99.8 1170.9,118.8 1171.5,102.6 1172.1,118.8 1172.7,102.7 1173.4,104.3 1174.1,99.3 1174.6,103.3 1175.2,104.3 1175.7,100.8 1176.1,104.8 1176.7,102.7 1177.3,118.8 1177.8,118.8 1178.3,118.8 1178.9,104.3 1179.7,105.2 1180.3,102.7 1181.0,103.2 1181.5,98.0 1182.2,118.8 1182.6,118.8 1183.1,101.9 1183.6,103.3 1184.1,100.6 1184.8,103.3 1185.5,102.4 1186.2,100.0 1186.6,100.9 1187.1,102.1 1187.7,105.6 1188.2,101.7 1188.8,118.8 1189.5,118.8 1190.0,105.7 1190.6,106.0 1191.2,105.6 1191.8,105.8 1192.5,118.8 1193.3,118.8 1193.9,118.8 1194.5,105.7 1195.0,118.8 1195.7,108.1 1196.5,110.6 1197.3,106.9 1197.9,101.5 1198.4,106.3 1199.0,106.7 1199.8,99.7 1200.3,105.1 1201.0,108.3 1201.6,107.9 1202.4,118.8 1203.0,118.8 1203.5,106.7 1204.3,106.5 1204.8,106.7 1205.5,104.5 1206.1,106.2 1206.8,118.8 1207.5,107.1 1208.1,112.3 1208.7,107.4 1209.1,103.1 1209.6,106.8 1210.2,104.2 1210.8,108.4 1211.4,103.5 1212.0,102.8 1212.7,101.6 1213.4,101.4 1214.1,118.8 1214.7,97.3 1215.4,102.1 1216.2,100.9 1216.9,102.2 1217.6,101.1 1218.1,100.9 1218.8,118.8 1219.5,118.8 1220.0,101.5 1220.6,102.9 1221.1,101.7 1221.8,102.0 1222.5,99.7 1223.0,104.0 1223.8,104.1 1224.5,101.5 1225.2,106.6 1225.7,118.8 1226.3,103.7 1226.9,103.6 1227.5,101.1 1228.2,104.9 1228.9,98.3 1229.4,102.5 1229.9,105.0 1230.5,100.7 1231.0,101.5 1231.7,105.1 1232.4,103.0 1232.9,105.1 1233.7,118.8 1234.4,118.8 1235.0,118.8 1235.5,106.1 1236.0,107.5 1236.8,102.1 1237.3,118.8 1237.9,118.8 1238.5,118.8 1239.1,101.5 1239.6,104.6 1240.4,105.4 1241.1,104.3 1241.9,108.3 1242.6,111.8 1243.4,105.7 1244.1,105.0 1244.6,108.0 1245.2,107.3 1246.0,118.8 1246.4,118.8 1247.0,105.5 1247.7,103.5 1248.2,107.0 1248.8,104.3 1249.4,103.5 1249.8,118.8 1250.4,118.8 1250.9,118.8 1251.5,118.8 1252.0,103.6 1252.8,118.8 1253.2,107.6 1253.8,107.5 1254.6,107.3 1255.0,118.8 1255.6,118.8 1256.3,107.1 1257.0,118.8 1257.6,106.8 1258.2,103.6 1258.7,107.6 1259.4,106.8 1259.9,103.2 1260.5,111.1 1261.1,107.2 1261.9,108.7 1262.6,106.2 1263.4,109.2 1263.9,109.1 1264.5,107.4 1265.1,110.6 1265.8,110.5 1266.5,105.3 1267.3,110.2 1268.1,112.2 1268.8,109.2 1269.4,118.8 1269.9,111.8 1270.7,118.8 1271.4,118.8 1271.9,118.8 1272.6,110.9 1273.1,109.1 1273.6,111.4 1274.4,108.4 1274.9,110.2 1275.5,109.0 1276.0,118.8 1276.7,118.8 1277.5,108.5 1278.2,112.9 1278.8,107.1 1279.4,107.1 1280.1,118.8 1280.7,107.1 1281.1,109.6 1281.8,118.8 1282.4,113.4 1283.0,111.6 1283.6,110.1 1284.1,109.3 1284.9,118.8 1285.5,107.5 1286.0,110.3 1286.7,105.4 1287.1,111.6 1287.8,109.9 1288.3,118.8 1288.9,113.6 1289.4,106.8 1290.0,112.7 1290.5,105.6 1291.1,118.8 1291.6,104.8 1292.1,110.0 1292.6,108.3 1293.3,108.9 1293.8,110.3 1294.4,106.5 1295.0,109.2 1295.4,118.8 1296.2,109.7 1297.0,107.0 1297.5,109.1 1298.2,118.8 1298.7,118.8 1299.2,103.4 1299.7,110.9 1300.4,107.0 1301.2,105.4 1301.9,118.8 1302.4,106.8 1303.1,110.5 1303.6,118.8 1304.4,106.2 1305.1,108.3 1305.9,118.8 1306.6,111.2 1307.3,112.4 1308.7,107.1 1310.0,104.0 1311.5,103.8 1313.0,99.0 1314.8,94.0 1316.5,93.3 1318.5,90.0 1320.7,85.8 1322.5,82.0 1325.0,71.9 1327.0,64.0 1328.3,59.6 1329.7,51.6 1331.5,57.0 1333.5,61.2 1335.0,65.0 1336.4,65.4 1337.8,67.7 1339.4,71.4 1341.0,71.0 1342.6,71.0 1344.2,75.1 1345.6,78.6 1347.0,79.0 1348.5,78.7 1350.0,81.5 1351.4,82.5 1352.8,81.5 1355.0,86.0 1357.1,91.1 1359.0,95.0 1361.4,98.6 1363.5,103.0 1365.6,107.2 1367.8,114.6 1368.0,118.8 1368.5,118.8 1369.0,118.8 1369.5,111.6 1370.1,106.5 1370.6,118.8 1371.1,118.8 1371.9,111.7 1372.4,118.8 1373.0,104.8 1373.8,110.9 1374.5,109.6 1375.0,112.8 1375.7,111.5 1376.3,104.2 1377.0,106.5 1377.6,107.1 1378.1,108.8 1378.6,118.8 1379.3,118.8 1379.9,118.8 1380.5,110.8 1381.0,112.8 1381.5,110.7 1382.1,108.6 1382.6,118.8 1383.1,109.0 1383.7,118.8 1384.3,118.8 1385.0,109.6 1385.8,111.7 1386.3,111.1 1387.0,114.0 1387.8,118.8 1388.3,118.8 1388.8,118.8 1389.6,118.8 1390.0,118.8 1390.5,109.9 1391.1,118.8 1391.5,110.1 1392.0,118.8 1392.5,112.1 1393.0,118.8 1393.6,118.8 1394.4,118.8 1395.0,106.8 1395.6,118.8 1396.2,118.8 1396.8,118.8 1397.6,116.4 1398.2,118.8 1398.7,118.8 1399.2,118.8 1400.0,118.8 1400.5,105.2 1401.0,108.8 1401.7,111.0 1402.2,118.8 1402.9,106.8 1403.7,118.8 1404.4,106.8 1405.0,106.5 1405.7,118.8 1406.5,115.8 1407.3,112.6 1407.7,113.9 1408.4,118.8 1408.9,114.3 1409.6,111.7 1410.0,109.8 1410.4,114.0 1411.2,113.5 1411.8,111.1 1412.4,112.9 1413.1,108.4 1413.5,108.7 1414.1,107.9 1414.7,108.3 1415.3,118.8 1416.1,111.5 1416.7,110.0 1417.2,118.8 1417.8,108.8 1418.5,108.6 1419.1,111.2 1419.6,105.9 1420.1,118.8 1420.8,118.8 1421.6,118.8 1422.3,118.8 1422.8,118.8 1423.4,118.8 1424.1,113.5 1424.8,112.1 1425.5,114.0 1426.2,113.0 1426.9,109.1 1427.6,118.8 1428.4,118.8 1429.2,118.8 1429.9,109.1 1430.6,114.3 1431.1,114.6 1431.6,118.8 1432.1,113.0 1432.7,115.2 1433.3,112.8 1434.0,118.8 1434.7,118.8 1435.3,118.8 1435.7,113.9 1436.4,114.3 1436.9,106.4 1437.6,115.5 1438.3,118.8 1439.0,110.8 1439.7,113.5 1440.5,110.4 1441.2,110.8 1441.7,118.8 1442.4,107.9 1443.1,105.9 1443.7,112.1 1444.1,118.8 1444.7,108.0 1445.5,107.9 1447.8,117.0 1447.8,86.4 1449.2,86.5 1450.5,86.6 1451.9,86.7 1453.2,86.8 1454.6,86.9 1455.9,87.0 1457.3,87.1 1458.6,87.2 1460.0,87.3 1461.3,87.4 1462.7,87.5 1464.0,87.6 1465.4,87.7 1466.7,87.8 1468.1,87.9 1469.4,88.0 1470.8,88.0 1472.1,88.1 1473.4,88.2 1474.8,88.3 1476.1,88.3 1477.5,88.4 1478.8,88.5 1480.1,88.5 1481.5,88.6 1482.8,88.7 1484.2,88.8 1485.5,88.8 1486.8,88.9 1488.2,89.0 1489.5,89.0 1490.8,89.1 1492.2,89.2 1493.5,89.2 1494.8,89.3 1496.2,89.4 1497.5,89.5 1498.9,89.5 1500.2,89.6 1501.5,89.6 1502.9,89.7 1504.2,89.7 1505.6,89.7 1506.9,89.8 1508.3,89.8 1509.6,89.8 1511.0,89.9 1512.3,89.9 1513.6,89.9 1515.0,90.0 1516.3,90.0 1517.7,90.0 1519.0,90.1 1520.4,90.1 1521.7,90.1 1523.1,90.2 1524.4,90.2 1525.7,90.2 1527.1,90.3 1528.4,90.3 1529.8,90.3 1531.1,90.4 1532.5,90.4 1533.8,90.4 1535.2,90.5 1536.5,90.5 1537.8,90.5 1539.2,90.4 1540.5,90.3 1541.9,90.3 1543.2,90.2 1544.5,90.2 1545.9,90.2 1547.2,90.1 1548.6,90.0 1549.9,90.0 1551.2,90.0 1552.6,89.9 1553.9,89.9 1555.3,89.8 1556.6,89.8 1558.0,89.7 1559.3,89.7 1560.6,89.6 1562.0,89.6 1563.3,89.5 1564.7,89.5 1566.0,89.4 1567.3,89.2 1568.6,89.1 1569.9,88.9 1571.3,88.8 1572.6,88.6 1573.9,88.4 1575.2,88.3 1576.5,88.1 1577.8,87.9 1579.2,87.8 1580.5,87.6 1581.8,87.5 1583.1,87.3 1584.4,86.9 1585.7,86.6 1587.0,86.2 1588.4,85.9 1589.7,85.5 1591.0,85.1 1592.3,84.8 1593.6,84.4 1594.9,84.0 1596.3,83.7 1597.6,83.3 1598.9,83.0 1600.2,82.6 1601.6,81.8 1603.0,81.6 1604.4,80.2 1605.8,80.2 1607.2,78.8 1608.6,78.9 1610.0,78.0 1611.3,77.0 1612.7,76.7 1614.0,75.3 1615.4,75.6 1616.7,73.9 1618.1,74.1 1619.4,73.0 1620.8,71.9 1622.3,71.5 1623.7,69.9 1625.1,69.5 1626.6,67.8 1628.0,67.5 1629.4,66.9 1630.8,65.4 1632.2,65.2 1633.7,63.6 1635.1,63.4 1636.5,61.9 1637.9,60.8 1639.2,60.8 1640.6,59.3 1641.9,59.2 1643.3,57.8 1644.6,57.4 1646.0,56.5 1647.4,55.3 1648.8,55.4 1650.2,53.9 1651.5,53.9 1652.9,52.4 1654.3,52.9 1655.7,51.6 1657.1,50.4 1658.5,50.7 1659.8,49.1 1661.2,49.3 1662.6,48.0 1664.0,47.5 1665.5,47.3 1666.9,45.9 1668.4,46.1 1669.9,44.7 1671.3,45.3 1672.8,44.2 1674.2,43.1 1675.7,43.0 1677.1,41.6 1678.6,41.6 1680.0,40.5 1681.4,39.2 1682.8,39.5 1684.2,38.3 1685.6,37.8 1687.1,37.1 1688.5,35.5 1690.0,35.0 1691.3,34.8 1692.6,33.1 1693.9,33.1 1695.2,32.0 1697.1,33.6 1699.0,36.0 1700.8,41.2 1702.7,45.2 1704.1,43.8 1705.5,43.6 1706.9,42.0 1708.5,36.2 1710.1,31.4 1711.7,30.9 1713.3,29.2 1715.0,31.0 1717.6,31.4 1719.3,30.1 1721.0,29.5 1722.4,29.4 1723.7,28.2 1725.1,28.2 1726.5,29.4 1728.0,29.0 1729.8,29.8 1731.5,31.4 1733.1,35.4 1734.7,38.2 1736.3,33.9 1737.9,30.3 1740.0,31.0 1742.2,35.2 1744.1,33.4 1746.0,31.0 1747.6,29.8 1749.1,29.8 1750.7,28.2 1752.1,28.3 1753.6,30.2 1755.0,30.5 1756.3,30.9 1757.7,33.2 1759.0,32.8 1760.3,34.6 1761.7,36.0 1763.1,35.4 1764.5,37.3 1765.8,36.3 1767.2,38.3 1768.6,37.6 1770.0,39.0 1771.4,40.2 1772.7,40.1 1774.1,41.6 1775.4,41.2 1776.8,43.0 1778.1,43.2 1779.5,44.2 1780.8,45.5 1782.1,44.9 1783.4,46.7 1784.7,46.1 1786.0,47.5 1787.5,48.4 1789.0,48.5 1790.5,49.9 1792.0,49.7 1793.5,51.1 1795.0,51.5" fill="none" stroke="#3B7EBA" stroke-width="2.4" stroke-linejoin="round"/>
</g>
<g clip-path="url(#cb1)">
<polyline points="1125.8,213.2 1126.6,208.1 1127.4,226.0 1128.0,208.8 1128.4,207.8 1129.0,211.7 1129.5,226.0 1130.3,211.3 1130.8,213.2 1131.2,226.0 1132.0,226.0 1132.5,213.5 1133.3,226.0 1134.1,211.7 1134.8,211.1 1135.6,211.5 1137.0,200.0 1138.7,189.9 1140.3,179.9 1142.5,192.0 1144.0,202.0 1145.0,211.2 1145.5,226.0 1146.2,208.4 1146.9,211.8 1147.7,210.1 1148.2,211.2 1148.9,210.0 1149.4,209.1 1150.0,226.0 1150.7,205.7 1151.3,226.0 1151.8,208.7 1152.5,216.5 1153.1,216.0 1153.8,209.3 1154.5,211.9 1155.0,211.0 1155.6,215.0 1156.2,226.0 1156.9,226.0 1157.4,214.5 1157.9,215.1 1158.3,210.5 1158.8,216.6 1159.3,212.5 1159.9,226.0 1160.7,226.0 1161.3,208.6 1161.8,217.9 1162.6,215.9 1163.3,212.7 1164.0,214.1 1164.4,212.6 1164.9,215.2 1165.4,226.0 1166.0,226.0 1166.6,211.8 1167.4,208.0 1168.0,214.3 1168.6,213.0 1169.2,213.5 1169.7,217.3 1170.3,211.2 1170.9,207.9 1171.6,212.0 1172.1,211.9 1172.8,226.0 1173.5,226.0 1174.3,211.1 1174.7,214.4 1175.3,210.8 1176.1,211.4 1176.6,226.0 1177.3,212.5 1177.8,212.8 1178.5,211.9 1179.2,210.3 1180.0,226.0 1180.6,209.5 1181.4,207.4 1182.1,226.0 1182.9,211.2 1183.5,207.5 1184.2,226.0 1185.0,208.4 1185.5,211.8 1186.0,210.3 1186.6,209.4 1187.4,209.2 1188.0,226.0 1188.5,226.0 1188.9,209.8 1189.6,203.2 1190.1,211.2 1190.7,211.1 1191.2,226.0 1191.8,226.0 1192.4,226.0 1193.0,226.0 1193.6,226.0 1194.1,226.0 1194.8,211.2 1195.3,212.8 1196.0,210.3 1196.5,211.0 1197.1,214.8 1197.8,212.2 1198.5,210.2 1199.3,226.0 1199.9,226.0 1200.4,226.0 1201.1,226.0 1201.8,226.0 1202.4,226.0 1203.0,213.9 1203.5,213.6 1204.1,211.6 1204.9,226.0 1205.6,226.0 1206.1,218.5 1206.8,214.8 1207.5,212.4 1208.0,215.6 1208.7,214.3 1209.2,217.3 1210.0,214.0 1210.7,226.0 1211.3,226.0 1211.9,226.0 1212.7,226.0 1213.5,209.3 1214.1,213.8 1214.5,226.0 1214.9,212.9 1215.4,212.4 1216.0,213.8 1216.8,209.6 1217.5,209.6 1218.0,226.0 1218.8,226.0 1219.4,204.1 1220.1,206.7 1220.6,205.0 1221.2,211.0 1221.9,213.5 1222.4,206.5 1223.2,209.6 1223.7,211.9 1224.4,211.9 1224.9,209.9 1225.6,212.0 1226.1,211.6 1226.8,213.9 1227.6,210.7 1228.1,213.2 1228.9,208.3 1229.6,226.0 1230.1,226.0 1230.8,210.7 1231.2,211.3 1232.0,226.0 1232.7,211.2 1233.2,211.3 1234.0,211.0 1234.8,212.3 1235.4,226.0 1236.0,209.5 1236.7,205.6 1237.4,209.2 1238.2,226.0 1239.0,211.6 1239.4,211.4 1240.1,226.0 1240.8,226.0 1241.6,226.0 1242.3,209.9 1242.9,226.0 1243.5,215.4 1243.9,215.4 1244.7,213.5 1245.2,214.6 1245.9,215.8 1246.5,211.7 1247.0,215.0 1247.8,210.7 1248.3,210.5 1248.7,209.5 1249.3,213.0 1249.8,213.5 1250.3,226.0 1250.8,211.7 1251.3,208.3 1251.9,226.0 1252.7,226.0 1253.2,226.0 1254.0,226.0 1254.6,210.0 1255.0,215.5 1255.7,212.0 1256.3,212.8 1257.0,215.1 1257.5,212.4 1258.0,208.3 1258.7,218.5 1259.2,211.6 1259.8,211.1 1260.3,226.0 1260.9,214.0 1261.3,215.0 1261.9,209.4 1262.6,210.3 1263.1,211.5 1263.7,226.0 1264.1,205.7 1264.9,226.0 1265.6,212.7 1266.1,205.4 1266.5,226.0 1267.1,211.4 1267.6,226.0 1269.5,216.2 1271.0,218.0 1272.5,213.0 1274.0,213.0 1275.3,213.5 1276.7,209.3 1278.0,212.0 1279.3,213.8 1280.7,212.3 1282.0,214.0 1283.3,214.5 1284.7,209.1 1286.0,209.0 1287.6,210.6 1289.2,205.4 1290.8,205.5 1292.1,207.5 1293.4,202.3 1294.7,205.0 1296.0,202.0 1297.4,198.2 1298.8,202.3 1300.1,196.2 1301.5,198.1 1302.9,199.7 1304.2,195.7 1305.6,198.5 1307.0,195.0 1308.3,192.3 1309.6,195.3 1310.9,192.1 1312.2,192.7 1313.8,194.1 1315.4,188.2 1317.0,189.0 1318.6,191.0 1320.2,184.7 1321.8,186.3 1324.0,178.0 1326.1,169.2 1328.0,159.0 1329.3,152.2 1331.4,160.7 1333.5,166.0 1335.7,170.3 1337.3,174.4 1339.0,173.0 1340.5,172.5 1342.1,175.7 1343.5,179.6 1345.0,177.2 1346.4,181.0 1348.2,181.2 1350.0,178.9 1350.3,176.0 1351.0,175.7 1352.5,175.1 1354.0,180.0 1355.5,182.4 1357.1,182.1 1358.7,179.4 1360.4,184.1 1362.0,181.0 1363.5,179.2 1364.9,182.5 1366.3,179.4 1367.8,182.1 1369.4,185.3 1371.0,183.1 1372.6,185.6 1374.2,186.3 1375.8,187.3 1377.4,190.4 1379.0,190.7 1380.6,193.8 1382.2,195.0 1383.8,193.7 1385.4,195.6 1387.0,195.3 1388.3,195.4 1389.7,198.7 1391.0,198.5 1392.5,199.1 1394.0,201.7 1395.5,202.3 1397.2,203.3 1399.0,206.0 1400.5,209.1 1401.9,210.9 1403.5,213.7 1405.1,218.4 1406.0,216.6 1406.5,217.2 1407.0,226.0 1407.7,226.0 1408.2,226.0 1408.7,226.0 1409.5,226.0 1410.0,218.9 1410.6,214.5 1411.0,214.8 1411.5,216.1 1412.2,226.0 1412.9,212.6 1413.3,226.0 1413.8,217.2 1414.4,212.8 1415.0,213.4 1415.7,226.0 1416.3,216.5 1416.9,210.9 1417.3,214.0 1418.0,226.0 1418.6,213.9 1419.3,214.4 1419.9,219.4 1420.5,218.5 1421.2,226.0 1421.9,215.4 1422.7,216.6 1423.4,226.0 1424.0,226.0 1424.5,226.0 1425.2,226.0 1425.7,226.0 1426.5,226.0 1427.1,219.4 1427.9,218.6 1428.4,216.1 1429.2,218.4 1429.7,226.0 1430.3,217.8 1430.9,226.0 1431.5,226.0 1432.1,215.1 1432.8,214.0 1433.2,218.0 1434.0,212.7 1434.5,226.0 1435.2,226.0 1435.7,226.0 1436.2,226.0 1436.6,226.0 1437.1,226.0 1437.7,226.0 1438.4,218.7 1439.0,218.9 1439.5,219.8 1440.1,226.0 1440.6,226.0 1441.1,215.0 1441.6,226.0 1442.4,216.6 1442.8,217.3 1443.6,214.2 1444.2,226.0 1444.9,212.2 1445.6,214.1 1447.8,224.0 1447.8,191.7 1449.2,191.8 1450.5,191.8 1451.9,191.9 1453.2,192.0 1454.6,192.0 1455.9,192.1 1457.3,192.2 1458.6,192.2 1460.0,192.3 1461.3,192.4 1462.7,192.4 1464.0,192.5 1465.4,192.6 1466.7,192.6 1468.1,192.7 1469.4,192.8 1470.8,192.8 1472.1,192.9 1473.4,193.0 1474.8,193.0 1476.1,193.1 1477.5,193.2 1478.8,193.2 1480.1,193.3 1481.5,193.4 1482.8,193.5 1484.2,193.5 1485.5,193.6 1486.8,193.7 1488.2,193.7 1489.5,193.8 1490.8,193.6 1492.2,193.5 1493.5,193.3 1494.8,193.2 1496.2,193.0 1497.5,192.8 1498.8,192.7 1500.2,193.1 1501.5,191.8 1502.8,192.9 1504.1,191.4 1505.5,192.1 1506.8,190.8 1508.1,192.0 1509.5,190.8 1510.8,191.2 1512.1,191.3 1513.4,189.5 1514.7,190.8 1516.0,189.5 1517.3,189.3 1518.7,190.7 1520.0,190.5 1521.8,189.2 1523.6,188.5 1525.0,189.1 1526.5,187.8 1527.9,188.5 1529.3,187.3 1530.8,188.0 1532.2,187.4 1533.7,187.0 1535.1,187.8 1536.5,187.2 1538.0,187.5 1539.4,187.8 1540.8,186.1 1542.2,187.2 1543.6,185.9 1545.0,185.9 1546.7,185.6 1548.3,183.7 1550.0,183.0 1551.4,182.7 1552.8,180.7 1554.3,181.5 1555.7,179.9 1558.0,181.0 1559.4,179.4 1560.7,179.7 1562.1,177.8 1563.4,176.9 1564.7,177.7 1566.0,176.1 1567.4,177.3 1568.7,175.3 1570.0,175.7 1566.5,177.0 1567.9,177.0 1569.2,175.3 1570.6,176.2 1572.0,174.5 1573.3,175.3 1574.7,173.2 1576.1,174.1 1577.4,172.1 1578.8,172.5 1580.1,172.6 1581.5,171.7 1582.8,172.7 1584.2,171.5 1585.5,172.2 1586.8,171.0 1588.2,172.1 1589.5,171.4 1590.9,171.4 1592.3,172.5 1593.8,171.8 1595.2,173.6 1596.6,173.3 1598.0,174.0 1599.6,174.4 1601.2,173.6 1602.8,174.8 1604.4,174.0 1605.8,172.1 1607.3,171.2 1608.7,169.2 1610.1,168.2 1611.5,168.3 1613.0,166.7 1614.4,166.9 1615.8,165.0 1617.2,165.0 1618.5,164.6 1619.8,161.7 1621.1,161.4 1622.4,159.4 1623.7,158.6 1625.3,159.3 1626.9,158.1 1628.5,158.6 1630.1,158.1 1631.5,156.6 1632.9,156.8 1634.3,155.4 1635.9,155.4 1637.5,156.9 1638.8,156.2 1640.2,153.5 1641.6,152.9 1642.9,151.1 1644.2,150.3 1645.6,150.7 1646.9,149.6 1648.2,150.2 1649.5,148.8 1650.8,149.5 1652.2,147.6 1653.5,147.9 1654.9,148.3 1656.4,147.7 1657.8,149.1 1659.2,148.4 1660.7,149.4 1662.1,149.0 1663.4,148.4 1664.8,148.9 1666.1,147.6 1667.4,148.1 1668.8,146.1 1670.1,147.4 1671.5,145.8 1672.8,145.8 1674.1,146.2 1675.5,145.2 1676.8,145.8 1678.1,144.4 1679.4,145.9 1680.8,144.7 1682.1,145.3 1683.4,144.7 1684.8,144.8 1686.1,146.6 1687.5,146.3 1688.8,147.9 1690.2,149.3 1691.7,148.4 1693.1,149.6 1694.8,160.7 1697.3,141.5 1698.9,138.6 1700.5,134.7 1701.8,134.1 1703.2,135.7 1704.6,134.9 1705.9,135.5 1707.2,137.9 1708.6,139.2 1709.9,142.4 1711.2,143.6 1712.6,145.3 1714.1,148.9 1715.5,150.5 1716.9,147.6 1718.3,147.0 1719.7,144.0 1721.0,144.6 1722.4,146.4 1723.8,146.1 1725.1,147.9 1726.5,146.8 1727.8,143.6 1729.2,142.9 1730.6,140.0 1732.0,138.8 1733.3,136.3 1734.7,134.7 1736.1,138.1 1737.6,140.2 1739.0,143.6 1740.4,142.0 1741.8,138.5 1743.2,137.2 1744.6,142.5 1746.1,146.6 1747.5,152.2 1749.1,146.1 1750.7,138.3 1752.0,136.5 1753.3,136.5 1754.7,134.0 1756.0,133.6 1757.4,134.0 1758.9,133.1 1760.3,134.8 1761.7,133.5 1763.2,135.2 1764.6,134.3 1766.0,135.0 1767.5,134.6 1768.9,135.1 1770.2,135.9 1771.6,134.7 1772.9,136.6 1774.2,135.4 1775.5,136.8 1776.8,135.7 1778.2,137.0 1779.5,136.8 1780.9,136.2 1782.3,138.3 1783.7,137.0 1785.1,138.9 1786.5,137.6 1788.0,139.4 1789.4,138.6 1790.8,139.8 1792.2,139.3 1793.6,140.2 1795.0,140.3" fill="none" stroke="#3B7EBA" stroke-width="2.4" stroke-linejoin="round"/>
</g>
<g clip-path="url(#cb2)">
<polyline points="1125.8,333.2 1126.6,333.2 1127.3,333.2 1127.8,320.8 1128.4,323.3 1129.0,333.2 1129.8,333.2 1130.3,333.2 1130.8,333.2 1131.6,333.2 1132.1,333.2 1132.9,333.2 1133.5,333.2 1134.2,333.2 1134.9,317.5 1135.6,333.2 1137.0,306.0 1138.7,299.9 1140.3,293.9 1142.5,305.0 1144.0,312.0 1145.0,317.4 1145.8,333.2 1146.4,317.9 1146.8,316.2 1147.4,316.4 1148.0,318.2 1148.5,319.2 1149.3,318.8 1150.0,333.2 1150.5,316.4 1151.2,320.0 1151.7,319.0 1152.5,321.4 1152.9,314.4 1153.5,333.2 1154.1,320.7 1154.6,320.6 1155.4,319.7 1156.0,333.2 1156.5,318.0 1157.3,314.2 1157.7,318.4 1158.2,316.7 1158.9,315.6 1159.4,324.4 1159.8,316.0 1160.6,316.3 1161.2,316.6 1161.9,319.0 1162.6,318.0 1163.2,319.7 1163.6,316.3 1164.2,317.3 1164.8,333.2 1165.4,333.2 1166.2,333.2 1166.9,322.8 1167.5,320.6 1168.1,324.5 1168.9,317.0 1169.5,323.5 1170.0,320.1 1170.7,321.4 1171.5,321.0 1172.0,321.3 1172.6,323.9 1173.1,321.1 1173.5,333.2 1174.2,322.9 1174.9,320.8 1175.5,321.2 1176.2,322.6 1176.8,333.2 1177.2,321.5 1177.7,323.3 1178.2,333.2 1178.7,318.4 1179.2,319.6 1180.0,320.6 1180.8,319.5 1181.5,314.7 1181.9,318.9 1182.5,320.1 1183.0,317.5 1183.6,321.3 1184.3,321.4 1185.0,323.4 1185.7,317.6 1186.2,317.9 1186.7,333.2 1187.2,317.5 1187.7,333.2 1188.3,319.3 1189.0,319.8 1189.8,333.2 1190.5,325.9 1191.3,333.2 1191.9,333.2 1192.6,333.2 1193.1,333.2 1193.6,315.1 1194.4,316.4 1195.0,314.3 1195.7,317.1 1196.2,320.0 1197.0,333.2 1197.4,318.2 1198.2,317.0 1198.7,333.2 1199.2,333.2 1200.0,319.0 1200.7,313.6 1201.5,320.7 1202.1,320.0 1202.7,319.7 1203.2,315.9 1203.8,315.2 1204.3,316.3 1204.8,316.0 1205.5,317.4 1206.0,316.7 1206.7,320.6 1207.4,318.9 1208.0,333.2 1208.6,320.1 1209.4,318.2 1209.9,314.2 1210.4,317.2 1211.2,333.2 1211.7,333.2 1212.2,319.1 1213.0,315.7 1213.6,333.2 1214.3,333.2 1214.8,333.2 1215.4,333.2 1216.0,323.3 1216.7,333.2 1217.4,333.2 1218.0,320.2 1218.7,318.0 1219.2,321.8 1219.7,320.5 1220.3,316.2 1220.8,319.6 1221.5,321.7 1222.0,321.4 1222.8,321.9 1223.4,324.6 1224.2,320.4 1224.6,318.0 1225.2,316.0 1225.8,314.9 1226.6,333.2 1227.2,319.2 1227.7,312.4 1228.5,316.2 1229.0,333.2 1229.7,314.6 1230.2,320.1 1230.8,333.2 1231.4,321.0 1232.0,320.8 1232.5,319.6 1233.0,316.1 1233.7,319.0 1234.5,333.2 1235.1,318.7 1235.7,321.4 1236.4,324.7 1237.1,322.2 1237.7,317.5 1238.2,333.2 1238.9,333.2 1239.6,333.2 1240.0,317.2 1240.5,317.2 1241.2,318.5 1241.8,314.4 1242.4,333.2 1243.1,333.2 1243.6,333.2 1244.3,320.0 1244.9,315.3 1245.6,315.4 1246.4,333.2 1247.0,319.3 1247.7,316.3 1248.3,318.6 1249.1,317.5 1249.7,318.7 1250.4,333.2 1251.1,316.1 1251.8,319.4 1252.3,322.6 1252.9,321.5 1253.6,322.9 1254.2,333.2 1254.8,333.2 1255.6,324.6 1256.1,333.2 1256.6,333.2 1257.1,316.9 1257.6,317.7 1258.4,320.9 1259.2,318.8 1259.9,318.0 1260.4,317.4 1261.1,316.6 1261.6,319.5 1262.3,317.2 1262.9,333.2 1263.5,321.3 1264.1,321.2 1264.7,333.2 1265.4,316.6 1266.1,333.2 1266.6,320.2 1267.1,320.1 1267.6,333.2 1269.5,320.0 1270.8,322.0 1272.1,315.5 1273.4,320.4 1274.7,315.9 1276.0,316.0 1277.6,317.5 1279.2,313.1 1280.7,316.1 1282.3,313.6 1284.2,310.8 1286.0,310.0 1287.6,310.2 1289.2,306.3 1290.8,307.1 1292.1,307.3 1293.4,303.3 1294.7,304.8 1296.0,303.0 1297.4,301.5 1298.8,304.2 1300.1,299.6 1301.5,300.7 1302.9,302.4 1304.2,297.9 1305.6,301.7 1307.0,300.0 1308.3,298.8 1309.6,301.8 1310.9,296.9 1312.2,298.6 1313.8,300.0 1315.4,294.7 1317.0,296.0 1318.6,298.4 1320.2,293.3 1321.8,294.3 1324.0,286.0 1326.1,277.2 1328.0,270.0 1329.7,266.6 1331.0,273.0 1332.5,279.4 1334.1,284.2 1335.7,283.7 1337.3,284.2 1339.0,288.0 1340.5,291.7 1342.1,291.1 1343.5,287.6 1345.0,290.5 1346.4,287.9 1348.0,286.4 1349.6,288.8 1351.2,283.8 1352.8,285.8 1354.4,286.4 1356.0,280.7 1357.6,281.4 1359.2,279.4 1361.1,277.8 1363.0,276.5 1364.6,276.2 1366.2,275.3 1367.8,275.1 1369.2,276.0 1370.6,275.8 1372.0,276.5 1373.4,277.6 1374.9,278.3 1376.3,279.4 1377.9,281.4 1379.5,282.9 1381.1,285.4 1382.7,286.9 1384.3,288.6 1385.9,291.4 1387.5,293.0 1389.1,295.4 1390.7,302.1 1392.3,307.1 1393.7,306.2 1395.0,308.6 1396.3,305.9 1397.7,307.1 1399.1,306.8 1400.5,304.4 1401.9,303.9 1403.3,306.1 1404.6,303.9 1406.0,306.0 1407.5,307.9 1409.0,306.0 1410.5,307.1 1413.0,309.0 1414.3,311.0 1415.6,308.9 1416.9,311.4 1418.5,310.5 1420.0,307.0 1421.3,305.3 1422.7,307.7 1424.1,305.3 1425.4,307.1 1427.0,307.1 1428.6,305.0 1430.2,306.0 1431.8,305.0 1433.2,304.1 1434.6,307.7 1436.0,307.0 1437.5,304.9 1438.9,307.9 1440.4,306.1 1441.9,304.7 1443.4,307.9 1444.8,305.2 1446.3,308.8 1447.8,307.6 1447.8,298.2 1449.2,298.0 1450.5,298.6 1451.9,298.1 1453.2,298.5 1454.6,298.2 1455.9,298.6 1457.3,298.2 1458.6,298.8 1460.0,298.1 1461.3,298.6 1462.7,298.4 1464.0,298.8 1465.4,298.4 1466.7,298.8 1468.1,298.6 1469.4,298.0 1470.7,298.2 1472.1,297.5 1473.4,297.8 1474.7,296.9 1476.0,297.1 1477.4,296.2 1478.7,296.6 1480.0,296.0 1481.4,295.2 1482.7,295.5 1484.1,294.6 1485.4,294.8 1486.8,293.7 1488.1,294.0 1489.5,293.3 1490.8,292.5 1492.2,292.8 1493.5,291.5 1494.8,292.1 1496.2,290.5 1497.5,291.1 1498.9,289.4 1500.2,289.6 1501.5,289.7 1502.9,288.7 1504.2,289.6 1505.5,288.5 1506.9,289.6 1508.2,288.4 1509.5,289.4 1510.8,288.2 1512.2,288.8 1513.5,287.6 1514.8,288.4 1516.2,287.3 1517.5,288.2 1518.8,287.1 1520.2,288.1 1521.5,287.3 1522.8,287.0 1524.2,287.5 1525.5,286.3 1526.8,287.2 1528.2,286.1 1529.5,287.1 1530.9,286.0 1532.2,286.9 1533.5,286.0 1534.9,286.8 1536.2,286.0 1537.6,286.8 1538.9,285.6 1540.2,286.6 1541.6,285.4 1542.9,285.8 1544.2,286.2 1545.6,285.0 1546.9,285.8 1548.2,284.5 1549.5,285.4 1550.8,284.2 1552.2,285.6 1553.5,284.7 1554.9,284.0 1556.3,285.0 1557.7,283.6 1559.1,284.6 1560.4,283.5 1561.8,284.1 1563.2,283.1 1564.6,283.7 1566.0,283.2 1567.3,282.1 1568.7,282.9 1570.0,281.8 1571.3,282.3 1572.7,280.8 1574.0,281.7 1575.4,280.3 1576.7,280.5 1578.1,280.6 1579.5,279.6 1581.0,280.0 1582.4,279.2 1583.8,279.6 1585.2,279.0 1586.6,278.5 1588.1,280.0 1589.5,279.5 1590.9,280.5 1592.4,280.0 1593.8,280.5 1595.2,280.3 1596.6,278.6 1598.0,278.3 1600.2,280.5 1601.6,279.5 1603.0,276.8 1604.4,275.5 1606.0,275.2 1607.6,273.1 1609.2,273.1 1610.8,271.3 1612.1,270.0 1613.5,270.1 1614.8,268.4 1616.2,268.8 1617.5,267.3 1618.8,267.2 1620.2,265.5 1621.5,265.5 1622.8,264.9 1624.2,263.1 1625.6,263.2 1626.9,261.9 1628.4,260.7 1629.9,261.2 1631.3,260.0 1632.8,260.4 1634.3,259.1 1635.7,257.9 1637.2,258.2 1638.6,256.5 1640.0,257.4 1641.5,255.8 1642.9,255.5 1644.3,255.6 1645.7,254.7 1647.2,255.4 1648.6,254.4 1650.0,255.4 1651.4,254.8 1652.8,254.5 1654.2,256.1 1655.7,255.2 1657.1,256.9 1658.5,256.0 1659.9,257.5 1661.4,256.9 1662.8,257.9 1664.2,258.0 1665.5,257.3 1666.9,257.8 1668.2,256.3 1669.6,256.6 1670.9,255.2 1672.2,255.7 1673.6,254.2 1674.9,254.2 1676.4,255.2 1677.9,254.3 1679.4,255.4 1680.9,254.6 1682.4,255.5 1683.7,257.8 1685.1,258.1 1686.4,261.0 1687.7,262.3 1690.3,279.0 1691.7,267.8 1693.1,258.0 1694.7,253.5 1696.3,247.4 1697.6,245.5 1698.9,245.5 1700.3,243.7 1701.6,243.1 1703.1,245.0 1704.6,244.8 1706.1,246.9 1707.6,247.5 1709.1,249.1 1710.7,248.3 1712.3,246.3 1713.6,247.4 1714.9,250.3 1716.3,251.2 1717.6,253.3 1719.2,252.3 1720.8,250.1 1722.4,249.3 1724.0,247.4 1725.3,246.2 1726.7,246.6 1728.0,244.6 1729.3,244.8 1730.7,243.3 1732.0,243.3 1733.4,241.5 1734.7,241.4 1736.6,247.2 1738.5,252.1 1740.3,247.3 1742.2,243.1 1743.6,245.2 1745.0,245.4 1746.4,247.4 1748.2,255.8 1750.1,262.7 1751.4,256.6 1752.8,251.6 1754.2,250.7 1755.5,248.1 1756.8,247.7 1758.2,245.6 1759.5,244.7 1760.9,246.0 1762.2,244.5 1763.6,245.4 1764.9,244.5 1766.2,245.3 1767.6,243.9 1768.9,244.2 1770.2,244.6 1771.6,243.8 1772.9,244.2 1774.2,243.5 1775.5,244.7 1776.8,243.2 1778.2,244.4 1779.5,243.7 1780.9,243.4 1782.3,244.7 1783.7,244.4 1785.1,245.5 1786.5,245.1 1788.0,246.2 1789.4,245.4 1790.8,246.8 1792.2,246.3 1793.6,247.1 1795.0,247.2" fill="none" stroke="#3B7EBA" stroke-width="2.4" stroke-linejoin="round"/>
</g>
<g clip-path="url(#cb3)">
<polyline points="1125.8,416.0 1127.0,418.0 1128.2,421.0 1129.0,440.0 1130.0,420.0 1131.0,440.0 1132.0,419.0 1133.0,440.0 1134.0,421.0 1135.0,420.5 1136.0,422.0 1137.0,418.0 1138.5,410.0 1140.5,400.7 1142.0,407.0 1143.0,405.5 1144.4,414.8 1147.0,412.0 1149.1,409.2 1151.2,408.0 1153.0,408.5 1155.0,411.0 1156.0,414.3 1158.0,423.0 1158.5,420.4 1159.2,427.8 1159.9,419.5 1160.6,421.8 1161.3,417.0 1162.0,424.9 1162.7,440.3 1163.4,424.8 1164.1,440.3 1166.4,440.3 1166.4,425.9 1167.1,425.4 1167.8,422.6 1168.5,421.8 1169.2,423.4 1169.9,417.0 1170.6,420.6 1171.3,440.3 1173.1,440.3 1173.1,422.3 1173.8,429.3 1174.5,419.3 1175.2,440.3 1177.5,440.3 1177.5,421.1 1178.2,430.5 1178.9,421.5 1179.6,440.3 1181.1,440.3 1181.1,417.0 1181.8,440.3 1182.5,419.2 1183.2,424.7 1184.7,422.0 1186.5,416.0 1188.6,413.8 1190.0,417.0 1192.0,420.0 1194.0,421.0 1195.5,424.0 1196.5,422.0 1198.0,425.0 1199.0,421.0 1200.5,440.0 1201.5,421.0 1203.0,423.0 1205.0,420.5 1207.0,422.0 1209.0,421.0 1210.0,440.0 1211.0,422.0 1212.0,440.0 1213.0,421.0 1214.0,440.0 1215.0,423.0 1217.0,421.0 1218.0,440.0 1219.0,422.0 1220.0,440.0 1221.0,424.0 1222.0,421.0 1220.4,420.5 1222.2,419.6 1224.0,417.0 1226.0,417.4 1228.0,418.5 1229.7,418.4 1231.5,415.9 1233.2,415.2 1235.6,416.4 1238.0,416.0 1240.0,414.4 1242.0,413.5 1244.0,414.0 1246.1,412.4 1248.1,412.4 1250.2,411.9 1252.4,409.9 1255.0,412.0 1256.9,411.8 1258.8,413.1 1260.4,415.9 1262.0,417.0 1263.6,418.7 1265.2,421.6 1267.1,420.2 1269.0,417.0 1271.3,415.1 1273.7,415.2 1275.3,416.9 1277.0,418.0 1278.6,417.0 1280.2,417.3 1283.0,412.0 1284.8,410.8 1286.6,407.7 1288.3,408.0 1290.0,410.0 1293.0,405.0 1294.6,404.9 1296.2,403.2 1297.8,404.0 1299.4,402.4 1302.0,405.0 1303.9,403.9 1305.8,403.5 1307.9,405.6 1310.0,406.0 1312.2,406.0 1314.3,407.7 1316.2,406.2 1318.0,404.0 1319.9,401.1 1321.8,399.2 1324.0,392.0 1326.1,384.2 1328.0,376.0 1329.7,370.4 1331.4,378.9 1333.5,377.8 1335.1,381.5 1336.7,384.2 1338.5,381.8 1340.3,381.2 1342.1,378.9 1344.2,375.8 1346.4,374.6 1348.5,374.6 1350.7,372.3 1352.8,371.9 1354.9,373.7 1357.1,373.6 1359.2,375.9 1361.4,378.9 1363.5,385.6 1365.6,391.7 1367.8,384.2 1370.0,388.0 1372.0,389.0 1374.2,391.8 1376.3,396.0 1379.0,393.5 1380.8,395.6 1382.7,396.0 1384.3,394.1 1386.0,394.0 1388.1,395.7 1390.2,395.4 1391.8,398.0 1393.4,402.4 1395.7,404.1 1398.0,405.0 1400.0,406.1 1401.9,408.8 1404.0,405.0 1406.2,406.7 1408.0,402.0 1410.5,407.7 1412.6,397.1 1414.3,399.0 1416.0,399.0 1418.0,394.5 1421.1,396.0 1423.0,399.0 1425.4,394.9 1427.0,398.0 1429.7,397.1 1431.0,393.0 1434.0,401.3 1436.0,396.0 1438.2,397.1 1441.0,401.0 1442.8,403.5 1444.6,406.7 1447.0,398.0 1449.0,400.1 1451.0,400.9 1454.0,398.0 1457.0,401.0 1459.3,400.3 1461.7,400.3 1464.0,397.0 1466.0,396.9 1468.1,396.0 1470.0,393.9 1472.0,393.0 1473.7,393.3 1475.4,391.1 1477.1,391.9 1478.8,391.1 1480.5,389.8 1482.3,390.7 1484.0,389.0 1485.8,388.0 1487.7,389.3 1489.5,388.5 1491.2,386.8 1493.0,386.0 1494.7,386.9 1496.3,385.8 1498.0,386.4 1499.7,387.7 1501.3,386.7 1503.0,388.0 1506.0,385.5 1508.4,387.0 1510.8,387.5 1512.5,386.8 1514.3,388.4 1516.0,388.0 1518.0,386.6 1520.0,386.5 1521.8,388.9 1523.6,389.6 1525.8,387.0 1527.9,385.3 1529.6,386.6 1531.3,386.4 1533.0,388.0 1535.0,387.6 1537.0,386.0 1538.8,386.3 1540.7,388.5 1542.8,387.2 1545.0,385.0 1547.0,385.5 1549.0,387.0 1551.2,386.4 1553.5,385.3 1555.8,384.1 1558.0,384.0 1560.1,384.2 1562.1,382.9 1564.2,383.2 1566.2,385.1 1568.3,385.1 1570.3,386.4 1572.4,385.2 1574.5,382.1 1576.7,380.5 1578.8,380.4 1580.4,382.3 1582.0,382.5 1583.8,380.4 1585.6,380.4 1587.4,378.3 1590.6,380.4 1592.2,378.0 1593.8,376.8 1595.4,379.4 1597.0,381.0 1598.6,379.0 1600.2,377.8 1602.3,381.5 1604.4,384.2 1606.6,381.0 1608.2,383.4 1609.8,386.8 1611.4,385.0 1613.0,382.1 1614.8,381.7 1616.5,384.1 1618.3,383.8 1620.4,379.6 1622.6,376.8 1624.2,377.8 1625.8,378.3 1627.4,375.0 1629.0,372.5 1631.1,375.7 1632.7,373.4 1634.3,369.7 1635.9,368.8 1637.5,370.1 1639.1,368.7 1640.7,369.3 1642.8,369.4 1645.0,367.6 1646.7,367.3 1648.4,368.4 1650.1,367.1 1651.8,368.6 1653.5,368.2 1655.2,365.6 1656.8,364.6 1658.4,368.5 1660.0,371.4 1661.6,370.1 1663.2,369.3 1665.3,386.0 1667.4,376.8 1670.6,378.3 1672.8,372.8 1674.9,366.1 1677.0,363.7 1679.2,362.7 1681.3,359.7 1683.4,360.4 1685.6,362.9 1688.1,378.3 1690.1,371.3 1692.1,362.1 1694.1,355.4 1695.7,354.2 1697.3,352.2 1699.5,356.5 1701.1,359.1 1702.7,362.9 1704.8,358.5 1706.9,353.3 1710.1,346.2 1712.3,358.6 1713.9,357.8 1715.5,357.6 1717.1,353.1 1718.7,346.9 1720.8,346.1 1722.9,345.8 1724.7,347.8 1726.5,347.3 1728.3,349.0 1730.4,350.9 1732.6,351.2 1734.7,357.6 1736.8,364.6 1738.4,359.3 1740.0,352.2 1742.2,352.5 1744.3,354.4 1745.9,357.1 1747.5,359.1 1749.6,352.2 1751.4,351.9 1753.2,352.8 1755.0,352.6 1756.7,353.4 1758.3,355.8 1760.0,357.0 1761.9,357.6 1763.8,360.4 1765.7,361.2 1767.5,359.4 1769.2,359.5 1771.0,358.0 1772.6,356.6 1774.2,357.3 1775.8,355.3 1777.4,355.4 1779.2,355.8 1781.0,354.1 1782.8,355.8 1784.5,353.9 1786.3,355.1 1788.1,354.4 1789.8,354.5 1791.5,355.8 1793.3,355.6 1795.0,356.5" fill="none" stroke="#3B7EBA" stroke-width="2.4" stroke-linejoin="round"/>
</g>
<line x1="1329.6" y1="22" x2="1329.6" y2="437.4" stroke="#EE4343" stroke-width="2.6" stroke-dasharray="10.8 4.8" stroke-dashoffset="7.5"/>
<line x1="1353.2" y1="339" x2="1353.2" y2="437.4" stroke="#EE4343" stroke-width="2.6" stroke-dasharray="11 4.4"/>
<g stroke="#000" stroke-width="2" fill="none">
<rect x="1125.4" y="16.2" width="669.1" height="99.6"/>
<line x1="1125.4" y1="28.3" x2="1135.4" y2="28.3"/>
<line x1="1784.5" y1="28.3" x2="1794.5" y2="28.3"/>
<line x1="1125.4" y1="53.4" x2="1135.4" y2="53.4"/>
<line x1="1784.5" y1="53.4" x2="1794.5" y2="53.4"/>
<line x1="1125.4" y1="78.5" x2="1135.4" y2="78.5"/>
<line x1="1784.5" y1="78.5" x2="1794.5" y2="78.5"/>
<line x1="1125.4" y1="103.6" x2="1135.4" y2="103.6"/>
<line x1="1784.5" y1="103.6" x2="1794.5" y2="103.6"/>
<line x1="1150.6" y1="16.2" x2="1150.6" y2="26.7"/>
<line x1="1150.6" y1="105.3" x2="1150.6" y2="115.8"/>
<line x1="1249.7" y1="16.2" x2="1249.7" y2="26.7"/>
<line x1="1249.7" y1="105.3" x2="1249.7" y2="115.8"/>
<line x1="1348.9" y1="16.2" x2="1348.9" y2="26.7"/>
<line x1="1348.9" y1="105.3" x2="1348.9" y2="115.8"/>
<line x1="1448.0" y1="16.2" x2="1448.0" y2="26.7"/>
<line x1="1448.0" y1="105.3" x2="1448.0" y2="115.8"/>
<line x1="1547.2" y1="16.2" x2="1547.2" y2="26.7"/>
<line x1="1547.2" y1="105.3" x2="1547.2" y2="115.8"/>
<line x1="1646.3" y1="16.2" x2="1646.3" y2="26.7"/>
<line x1="1646.3" y1="105.3" x2="1646.3" y2="115.8"/>
<line x1="1745.4" y1="16.2" x2="1745.4" y2="26.7"/>
<line x1="1745.4" y1="105.3" x2="1745.4" y2="115.8"/>
<rect x="1125.4" y="123.3" width="669.1" height="99.6"/>
<line x1="1125.4" y1="135.4" x2="1135.4" y2="135.4"/>
<line x1="1784.5" y1="135.4" x2="1794.5" y2="135.4"/>
<line x1="1125.4" y1="160.5" x2="1135.4" y2="160.5"/>
<line x1="1784.5" y1="160.5" x2="1794.5" y2="160.5"/>
<line x1="1125.4" y1="185.6" x2="1135.4" y2="185.6"/>
<line x1="1784.5" y1="185.6" x2="1794.5" y2="185.6"/>
<line x1="1125.4" y1="210.7" x2="1135.4" y2="210.7"/>
<line x1="1784.5" y1="210.7" x2="1794.5" y2="210.7"/>
<line x1="1150.6" y1="123.3" x2="1150.6" y2="133.8"/>
<line x1="1150.6" y1="212.4" x2="1150.6" y2="222.9"/>
<line x1="1249.7" y1="123.3" x2="1249.7" y2="133.8"/>
<line x1="1249.7" y1="212.4" x2="1249.7" y2="222.9"/>
<line x1="1348.9" y1="123.3" x2="1348.9" y2="133.8"/>
<line x1="1348.9" y1="212.4" x2="1348.9" y2="222.9"/>
<line x1="1448.0" y1="123.3" x2="1448.0" y2="133.8"/>
<line x1="1448.0" y1="212.4" x2="1448.0" y2="222.9"/>
<line x1="1547.2" y1="123.3" x2="1547.2" y2="133.8"/>
<line x1="1547.2" y1="212.4" x2="1547.2" y2="222.9"/>
<line x1="1646.3" y1="123.3" x2="1646.3" y2="133.8"/>
<line x1="1646.3" y1="212.4" x2="1646.3" y2="222.9"/>
<line x1="1745.4" y1="123.3" x2="1745.4" y2="133.8"/>
<line x1="1745.4" y1="212.4" x2="1745.4" y2="222.9"/>
<rect x="1125.4" y="230.5" width="669.1" height="99.6"/>
<line x1="1125.4" y1="242.6" x2="1135.4" y2="242.6"/>
<line x1="1784.5" y1="242.6" x2="1794.5" y2="242.6"/>
<line x1="1125.4" y1="267.7" x2="1135.4" y2="267.7"/>
<line x1="1784.5" y1="267.7" x2="1794.5" y2="267.7"/>
<line x1="1125.4" y1="292.8" x2="1135.4" y2="292.8"/>
<line x1="1784.5" y1="292.8" x2="1794.5" y2="292.8"/>
<line x1="1125.4" y1="317.9" x2="1135.4" y2="317.9"/>
<line x1="1784.5" y1="317.9" x2="1794.5" y2="317.9"/>
<line x1="1150.6" y1="230.5" x2="1150.6" y2="241.0"/>
<line x1="1150.6" y1="319.6" x2="1150.6" y2="330.1"/>
<line x1="1249.7" y1="230.5" x2="1249.7" y2="241.0"/>
<line x1="1249.7" y1="319.6" x2="1249.7" y2="330.1"/>
<line x1="1348.9" y1="230.5" x2="1348.9" y2="241.0"/>
<line x1="1348.9" y1="319.6" x2="1348.9" y2="330.1"/>
<line x1="1448.0" y1="230.5" x2="1448.0" y2="241.0"/>
<line x1="1448.0" y1="319.6" x2="1448.0" y2="330.1"/>
<line x1="1547.2" y1="230.5" x2="1547.2" y2="241.0"/>
<line x1="1547.2" y1="319.6" x2="1547.2" y2="330.1"/>
<line x1="1646.3" y1="230.5" x2="1646.3" y2="241.0"/>
<line x1="1646.3" y1="319.6" x2="1646.3" y2="330.1"/>
<line x1="1745.4" y1="230.5" x2="1745.4" y2="241.0"/>
<line x1="1745.4" y1="319.6" x2="1745.4" y2="330.1"/>
<rect x="1125.4" y="337.7" width="669.1" height="99.6"/>
<line x1="1125.4" y1="349.8" x2="1135.4" y2="349.8"/>
<line x1="1784.5" y1="349.8" x2="1794.5" y2="349.8"/>
<line x1="1125.4" y1="374.9" x2="1135.4" y2="374.9"/>
<line x1="1784.5" y1="374.9" x2="1794.5" y2="374.9"/>
<line x1="1125.4" y1="400.0" x2="1135.4" y2="400.0"/>
<line x1="1784.5" y1="400.0" x2="1794.5" y2="400.0"/>
<line x1="1125.4" y1="425.1" x2="1135.4" y2="425.1"/>
<line x1="1784.5" y1="425.1" x2="1794.5" y2="425.1"/>
<line x1="1150.6" y1="337.7" x2="1150.6" y2="348.2"/>
<line x1="1150.6" y1="426.8" x2="1150.6" y2="437.3"/>
<line x1="1249.7" y1="337.7" x2="1249.7" y2="348.2"/>
<line x1="1249.7" y1="426.8" x2="1249.7" y2="437.3"/>
<line x1="1348.9" y1="337.7" x2="1348.9" y2="348.2"/>
<line x1="1348.9" y1="426.8" x2="1348.9" y2="437.3"/>
<line x1="1448.0" y1="337.7" x2="1448.0" y2="348.2"/>
<line x1="1448.0" y1="426.8" x2="1448.0" y2="437.3"/>
<line x1="1547.2" y1="337.7" x2="1547.2" y2="348.2"/>
<line x1="1547.2" y1="426.8" x2="1547.2" y2="437.3"/>
<line x1="1646.3" y1="337.7" x2="1646.3" y2="348.2"/>
<line x1="1646.3" y1="426.8" x2="1646.3" y2="437.3"/>
<line x1="1745.4" y1="337.7" x2="1745.4" y2="348.2"/>
<line x1="1745.4" y1="426.8" x2="1745.4" y2="437.3"/>
</g>
<line x1="1127" y1="53.4" x2="1136.5" y2="53.4" stroke="#3B7EBA" stroke-width="2.4"/>
<text transform="translate(1119.80,35.60) scale(1,1.090)" font-family="'Liberation Sans', Arial, Helvetica, sans-serif" font-size="21.00" text-anchor="end">-20</text>
<text transform="translate(1119.80,60.70) scale(1,1.090)" font-family="'Liberation Sans', Arial, Helvetica, sans-serif" font-size="21.00" text-anchor="end">-40</text>
<text transform="translate(1119.80,85.80) scale(1,1.090)" font-family="'Liberation Sans', Arial, Helvetica, sans-serif" font-size="21.00" text-anchor="end">-60</text>
<text transform="translate(1119.80,110.90) scale(1,1.090)" font-family="'Liberation Sans', Arial, Helvetica, sans-serif" font-size="21.00" text-anchor="end">-80</text>
<text transform="translate(1143.00,53.10) scale(1,1.080)" font-family="'Liberation Sans', Arial, Helvetica, sans-serif" font-size="21.60">20 pJ</text>
<text transform="translate(1119.80,142.70) scale(1,1.090)" font-family="'Liberation Sans', Arial, Helvetica, sans-serif" font-size="21.00" text-anchor="end">-20</text>
<text transform="translate(1119.80,167.80) scale(1,1.090)" font-family="'Liberation Sans', Arial, Helvetica, sans-serif" font-size="21.00" text-anchor="end">-40</text>
<text transform="translate(1119.80,192.90) scale(1,1.090)" font-family="'Liberation Sans', Arial, Helvetica, sans-serif" font-size="21.00" text-anchor="end">-60</text>
<text transform="translate(1119.80,218.00) scale(1,1.090)" font-family="'Liberation Sans', Arial, Helvetica, sans-serif" font-size="21.00" text-anchor="end">-80</text>
<text transform="translate(1143.00,160.20) scale(1,1.080)" font-family="'Liberation Sans', Arial, Helvetica, sans-serif" font-size="21.60">46 pJ</text>
<text transform="translate(1119.80,249.90) scale(1,1.090)" font-family="'Liberation Sans', Arial, Helvetica, sans-serif" font-size="21.00" text-anchor="end">-20</text>
<text transform="translate(1119.80,275.00) scale(1,1.090)" font-family="'Liberation Sans', Arial, Helvetica, sans-serif" font-size="21.00" text-anchor="end">-40</text>
<text transform="translate(1119.80,300.10) scale(1,1.090)" font-family="'Liberation Sans', Arial, Helvetica, sans-serif" font-size="21.00" text-anchor="end">-60</text>
<text transform="translate(1119.80,325.20) scale(1,1.090)" font-family="'Liberation Sans', Arial, Helvetica, sans-serif" font-size="21.00" text-anchor="end">-80</text>
<text transform="translate(1143.00,267.40) scale(1,1.080)" font-family="'Liberation Sans', Arial, Helvetica, sans-serif" font-size="21.60">53 pJ</text>
<text transform="translate(1119.80,357.10) scale(1,1.090)" font-family="'Liberation Sans', Arial, Helvetica, sans-serif" font-size="21.00" text-anchor="end">-20</text>
<text transform="translate(1119.80,382.20) scale(1,1.090)" font-family="'Liberation Sans', Arial, Helvetica, sans-serif" font-size="21.00" text-anchor="end">-40</text>
<text transform="translate(1119.80,407.30) scale(1,1.090)" font-family="'Liberation Sans', Arial, Helvetica, sans-serif" font-size="21.00" text-anchor="end">-60</text>
<text transform="translate(1119.80,432.40) scale(1,1.090)" font-family="'Liberation Sans', Arial, Helvetica, sans-serif" font-size="21.00" text-anchor="end">-80</text>
<text transform="translate(1143.00,374.60) scale(1,1.080)" font-family="'Liberation Sans', Arial, Helvetica, sans-serif" font-size="21.60">107 pJ</text>
<text transform="translate(1150.60,463.50) scale(1,1.080)" font-family="'Liberation Sans', Arial, Helvetica, sans-serif" font-size="21.00" text-anchor="middle">400</text>
<text transform="translate(1249.74,463.50) scale(1,1.080)" font-family="'Liberation Sans', Arial, Helvetica, sans-serif" font-size="21.00" text-anchor="middle">600</text>
<text transform="translate(1348.88,463.50) scale(1,1.080)" font-family="'Liberation Sans', Arial, Helvetica, sans-serif" font-size="21.00" text-anchor="middle">800</text>
<text transform="translate(1448.02,463.50) scale(1,1.080)" font-family="'Liberation Sans', Arial, Helvetica, sans-serif" font-size="21.00" text-anchor="middle">1000</text>
<text transform="translate(1547.16,463.50) scale(1,1.080)" font-family="'Liberation Sans', Arial, Helvetica, sans-serif" font-size="21.00" text-anchor="middle">1200</text>
<text transform="translate(1646.30,463.50) scale(1,1.080)" font-family="'Liberation Sans', Arial, Helvetica, sans-serif" font-size="21.00" text-anchor="middle">1400</text>
<text transform="translate(1745.44,463.50) scale(1,1.080)" font-family="'Liberation Sans', Arial, Helvetica, sans-serif" font-size="21.00" text-anchor="middle">1600</text>
<text transform="translate(1277.60,42.00) scale(1,1.080)" font-family="'Liberation Sans', Arial, Helvetica, sans-serif" font-size="21.00" fill="#EE4343">SHG</text>
<text transform="translate(1362.80,365.20) scale(1,1.080)" font-family="'Liberation Sans', Arial, Helvetica, sans-serif" font-size="21.00" fill="#EE4343">DW</text>
<text transform="translate(1481.30,501.80) scale(1,1.030)" font-family="'Liberation Sans', Arial, Helvetica, sans-serif" font-size="24.60" text-anchor="middle">Wavelength (nm)</text>
<text transform="translate(1073.20,227.20) rotate(-90) scale(1,1.120)" font-family="'Liberation Sans', Arial, Helvetica, sans-serif" font-size="21.30" text-anchor="middle">Power (dB)</text>
<text transform="translate(1017.40,35.60)" font-family="'Liberation Sans', Arial, Helvetica, sans-serif" font-size="41.60" font-weight="bold">(b)</text>
</svg></body></html>
